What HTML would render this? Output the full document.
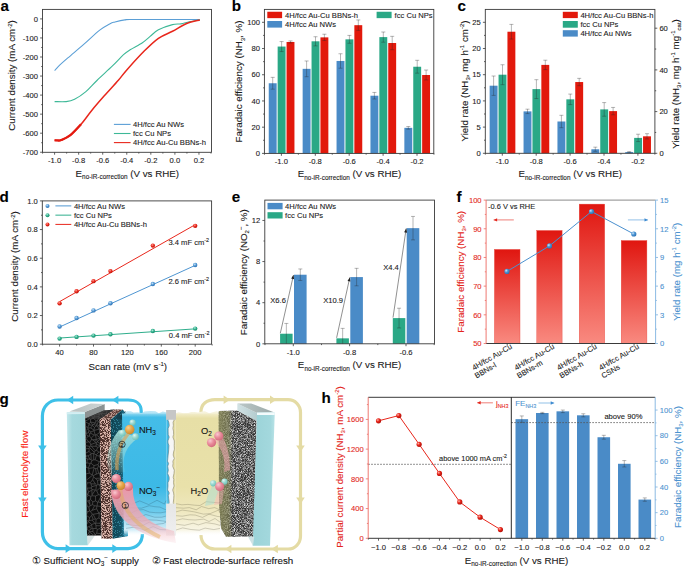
<!DOCTYPE html>
<html><head><meta charset="utf-8"><style>
html,body{margin:0;padding:0;background:#fff;}
svg{display:block;font-family:"Liberation Sans", sans-serif;}
</style></head><body>
<svg width="685" height="567" viewBox="0 0 685 567">
<rect width="685" height="567" fill="#fff"/>
<text x="0.60" y="11.30" font-size="15.2" text-anchor="start" fill="#000" font-weight="bold"  stroke="#000" stroke-width="0.1">a</text>
<path d="M54.60,70.72 C55.20,70.02 56.00,68.65 58.21,66.53 C60.41,64.40 63.58,61.64 67.83,57.95 C72.08,54.27 78.40,49.06 83.71,44.43 C89.03,39.79 95.32,33.60 99.71,30.14 C104.10,26.68 107.51,25.03 110.06,23.66 C112.60,22.30 112.52,22.58 114.99,21.95 C117.46,21.31 121.89,20.27 124.86,19.85 C127.82,19.44 124.45,19.54 132.80,19.47 C141.14,19.41 163.73,19.47 174.90,19.47 C186.07,19.47 195.65,19.47 199.80,19.47" fill="none" stroke="#5b9fd6" stroke-width="1.1"/>
<path d="M54.60,101.58 C56.52,101.58 62.82,101.96 66.15,101.58 C69.48,101.20 71.28,100.94 74.57,99.29 C77.86,97.64 82.11,94.85 85.88,91.67 C89.65,88.50 92.76,84.53 97.19,80.24 C101.62,75.95 108.07,70.21 112.46,65.95 C116.86,61.70 120.58,57.41 123.53,54.71 C126.48,52.02 127.00,51.76 130.15,49.76 C133.30,47.76 139.09,44.93 142.42,42.71 C145.75,40.49 147.45,38.59 150.12,36.43 C152.78,34.27 154.69,31.73 158.42,29.76 C162.15,27.79 168.74,25.60 172.49,24.61 C176.24,23.63 178.11,24.33 180.91,23.85 C183.72,23.38 186.19,22.42 189.34,21.76 C192.48,21.09 198.06,20.17 199.80,19.85" fill="none" stroke="#3db897" stroke-width="1.1"/>
<path d="M54.60,140.25 C55.10,140.28 56.50,140.47 57.61,140.44 C58.71,140.41 59.09,140.95 61.22,140.06 C63.34,139.17 67.05,137.74 70.36,135.10 C73.67,132.47 77.54,128.31 81.07,124.25 C84.59,120.18 87.66,115.45 91.53,110.72 C95.40,105.99 99.81,100.94 104.28,95.86 C108.76,90.78 114.61,84.56 118.36,80.24 C122.11,75.92 122.47,74.81 126.78,69.95 C131.09,65.10 138.95,56.36 144.22,51.09 C149.50,45.82 153.71,41.63 158.42,38.33 C163.13,35.03 167.78,33.76 172.49,31.28 C177.21,28.81 182.14,25.35 186.69,23.47 C191.24,21.60 197.62,20.61 199.80,20.04" fill="none" stroke="#e8261b" stroke-width="1.5"/>
<path d="M54.60,140.25 C55.10,140.28 56.50,140.47 57.61,140.44 C58.71,140.41 59.09,140.95 61.22,140.06 C63.34,139.17 67.05,137.74 70.36,135.10 C73.67,132.47 79.28,126.06 81.07,124.25" fill="none" stroke="#e41a10" stroke-width="2.3"/>
<rect x="42.50" y="9.40" width="169.00" height="142.90" fill="none" stroke="#3a3a3a" stroke-width="0.9"/>
<line x1="41.20" y1="28.42" x2="42.50" y2="28.42" stroke="#3a3a3a" stroke-width="0.8" />
<line x1="41.20" y1="47.47" x2="42.50" y2="47.47" stroke="#3a3a3a" stroke-width="0.8" />
<line x1="41.20" y1="66.53" x2="42.50" y2="66.53" stroke="#3a3a3a" stroke-width="0.8" />
<line x1="41.20" y1="85.57" x2="42.50" y2="85.57" stroke="#3a3a3a" stroke-width="0.8" />
<line x1="41.20" y1="104.62" x2="42.50" y2="104.62" stroke="#3a3a3a" stroke-width="0.8" />
<line x1="41.20" y1="123.68" x2="42.50" y2="123.68" stroke="#3a3a3a" stroke-width="0.8" />
<line x1="41.20" y1="142.72" x2="42.50" y2="142.72" stroke="#3a3a3a" stroke-width="0.8" />
<line x1="40.10" y1="18.90" x2="42.50" y2="18.90" stroke="#3a3a3a" stroke-width="0.8" />
<text x="38.00" y="21.62" font-size="7.6" text-anchor="end" fill="#1a1a1a" font-weight="normal"  stroke="#1a1a1a" stroke-width="0.1">0</text>
<line x1="40.10" y1="37.95" x2="42.50" y2="37.95" stroke="#3a3a3a" stroke-width="0.8" />
<text x="38.00" y="40.67" font-size="7.6" text-anchor="end" fill="#1a1a1a" font-weight="normal"  stroke="#1a1a1a" stroke-width="0.1">-100</text>
<line x1="40.10" y1="57.00" x2="42.50" y2="57.00" stroke="#3a3a3a" stroke-width="0.8" />
<text x="38.00" y="59.72" font-size="7.6" text-anchor="end" fill="#1a1a1a" font-weight="normal"  stroke="#1a1a1a" stroke-width="0.1">-200</text>
<line x1="40.10" y1="76.05" x2="42.50" y2="76.05" stroke="#3a3a3a" stroke-width="0.8" />
<text x="38.00" y="78.77" font-size="7.6" text-anchor="end" fill="#1a1a1a" font-weight="normal"  stroke="#1a1a1a" stroke-width="0.1">-300</text>
<line x1="40.10" y1="95.10" x2="42.50" y2="95.10" stroke="#3a3a3a" stroke-width="0.8" />
<text x="38.00" y="97.82" font-size="7.6" text-anchor="end" fill="#1a1a1a" font-weight="normal"  stroke="#1a1a1a" stroke-width="0.1">-400</text>
<line x1="40.10" y1="114.15" x2="42.50" y2="114.15" stroke="#3a3a3a" stroke-width="0.8" />
<text x="38.00" y="116.87" font-size="7.6" text-anchor="end" fill="#1a1a1a" font-weight="normal"  stroke="#1a1a1a" stroke-width="0.1">-500</text>
<line x1="40.10" y1="133.20" x2="42.50" y2="133.20" stroke="#3a3a3a" stroke-width="0.8" />
<text x="38.00" y="135.92" font-size="7.6" text-anchor="end" fill="#1a1a1a" font-weight="normal"  stroke="#1a1a1a" stroke-width="0.1">-600</text>
<line x1="40.10" y1="152.25" x2="42.50" y2="152.25" stroke="#3a3a3a" stroke-width="0.8" />
<text x="38.00" y="154.97" font-size="7.6" text-anchor="end" fill="#1a1a1a" font-weight="normal"  stroke="#1a1a1a" stroke-width="0.1">-700</text>
<line x1="42.57" y1="152.30" x2="42.57" y2="153.60" stroke="#3a3a3a" stroke-width="0.8" />
<line x1="66.63" y1="152.30" x2="66.63" y2="153.60" stroke="#3a3a3a" stroke-width="0.8" />
<line x1="90.69" y1="152.30" x2="90.69" y2="153.60" stroke="#3a3a3a" stroke-width="0.8" />
<line x1="114.75" y1="152.30" x2="114.75" y2="153.60" stroke="#3a3a3a" stroke-width="0.8" />
<line x1="138.81" y1="152.30" x2="138.81" y2="153.60" stroke="#3a3a3a" stroke-width="0.8" />
<line x1="162.87" y1="152.30" x2="162.87" y2="153.60" stroke="#3a3a3a" stroke-width="0.8" />
<line x1="186.93" y1="152.30" x2="186.93" y2="153.60" stroke="#3a3a3a" stroke-width="0.8" />
<line x1="210.99" y1="152.30" x2="210.99" y2="153.60" stroke="#3a3a3a" stroke-width="0.8" />
<line x1="54.60" y1="152.30" x2="54.60" y2="154.70" stroke="#3a3a3a" stroke-width="0.8" />
<text x="54.60" y="163.12" font-size="7.6" text-anchor="middle" fill="#1a1a1a" font-weight="normal"  stroke="#1a1a1a" stroke-width="0.1">-1.0</text>
<line x1="78.66" y1="152.30" x2="78.66" y2="154.70" stroke="#3a3a3a" stroke-width="0.8" />
<text x="78.66" y="163.12" font-size="7.6" text-anchor="middle" fill="#1a1a1a" font-weight="normal"  stroke="#1a1a1a" stroke-width="0.1">-0.8</text>
<line x1="102.72" y1="152.30" x2="102.72" y2="154.70" stroke="#3a3a3a" stroke-width="0.8" />
<text x="102.72" y="163.12" font-size="7.6" text-anchor="middle" fill="#1a1a1a" font-weight="normal"  stroke="#1a1a1a" stroke-width="0.1">-0.6</text>
<line x1="126.78" y1="152.30" x2="126.78" y2="154.70" stroke="#3a3a3a" stroke-width="0.8" />
<text x="126.78" y="163.12" font-size="7.6" text-anchor="middle" fill="#1a1a1a" font-weight="normal"  stroke="#1a1a1a" stroke-width="0.1">-0.4</text>
<line x1="150.84" y1="152.30" x2="150.84" y2="154.70" stroke="#3a3a3a" stroke-width="0.8" />
<text x="150.84" y="163.12" font-size="7.6" text-anchor="middle" fill="#1a1a1a" font-weight="normal"  stroke="#1a1a1a" stroke-width="0.1">-0.2</text>
<line x1="174.90" y1="152.30" x2="174.90" y2="154.70" stroke="#3a3a3a" stroke-width="0.8" />
<text x="174.90" y="163.12" font-size="7.6" text-anchor="middle" fill="#1a1a1a" font-weight="normal"  stroke="#1a1a1a" stroke-width="0.1">0.0</text>
<line x1="198.96" y1="152.30" x2="198.96" y2="154.70" stroke="#3a3a3a" stroke-width="0.8" />
<text x="198.96" y="163.12" font-size="7.6" text-anchor="middle" fill="#1a1a1a" font-weight="normal"  stroke="#1a1a1a" stroke-width="0.1">0.2</text>
<text x="127.30" y="176.69" font-size="9.75" text-anchor="middle" fill="#1a1a1a" stroke="#1a1a1a" stroke-width="0.1">E<tspan font-size="6.4" dy="2.4">no-iR-correction</tspan><tspan dy="-2.4"> (V vs RHE)</tspan></text>
<text transform="translate(15.3,75.5) rotate(-90)" font-size="9.75" text-anchor="middle" fill="#1a1a1a" stroke="#1a1a1a" stroke-width="0.1">Current density (mA cm<tspan font-size="6" dy="-3.4">-2</tspan><tspan dy="3.4">)</tspan></text>
<line x1="113.90" y1="124.40" x2="130.60" y2="124.40" stroke="#5b9fd6" stroke-width="1.1" />
<text x="133.00" y="127.12" font-size="7.6" text-anchor="start" fill="#1a1a1a" font-weight="normal"  stroke="#1a1a1a" stroke-width="0.1">4H/fcc Au NWs</text>
<line x1="113.90" y1="133.50" x2="130.60" y2="133.50" stroke="#3db897" stroke-width="1.1" />
<text x="133.00" y="136.22" font-size="7.6" text-anchor="start" fill="#1a1a1a" font-weight="normal"  stroke="#1a1a1a" stroke-width="0.1">fcc Cu NPs</text>
<line x1="113.90" y1="142.60" x2="130.60" y2="142.60" stroke="#e8261b" stroke-width="1.1" />
<text x="133.00" y="145.32" font-size="7.6" text-anchor="start" fill="#1a1a1a" font-weight="normal"  stroke="#1a1a1a" stroke-width="0.1">4H/fcc Au-Cu BBNs-h</text>
<text x="231.80" y="11.30" font-size="15.2" text-anchor="start" fill="#000" font-weight="bold"  stroke="#000" stroke-width="0.1">b</text>
<rect x="268.75" y="83.26" width="7.90" height="70.14" fill="#4a8bc7" />
<rect x="277.65" y="46.55" width="7.90" height="106.85" fill="#2aa886" />
<rect x="286.55" y="41.97" width="7.90" height="111.44" fill="#e2190c" />
<rect x="302.65" y="68.84" width="7.90" height="84.56" fill="#4a8bc7" />
<rect x="311.55" y="41.31" width="7.90" height="112.09" fill="#2aa886" />
<rect x="320.45" y="37.38" width="7.90" height="116.02" fill="#e2190c" />
<rect x="336.55" y="60.97" width="7.90" height="92.43" fill="#4a8bc7" />
<rect x="345.45" y="39.34" width="7.90" height="114.06" fill="#2aa886" />
<rect x="354.35" y="25.18" width="7.90" height="128.22" fill="#e2190c" />
<rect x="370.45" y="95.72" width="7.90" height="57.68" fill="#4a8bc7" />
<rect x="379.35" y="37.11" width="7.90" height="116.29" fill="#2aa886" />
<rect x="388.25" y="43.01" width="7.90" height="110.39" fill="#e2190c" />
<rect x="404.35" y="127.84" width="7.90" height="25.56" fill="#4a8bc7" />
<rect x="413.25" y="66.74" width="7.90" height="86.66" fill="#2aa886" />
<rect x="422.15" y="75.00" width="7.90" height="78.40" fill="#e2190c" />
<line x1="272.70" y1="77.36" x2="272.70" y2="89.16" stroke="rgba(40,40,40,0.62)" stroke-width="0.55" />
<line x1="270.70" y1="77.36" x2="274.70" y2="77.36" stroke="rgba(40,40,40,0.62)" stroke-width="0.55" />
<line x1="270.70" y1="89.16" x2="274.70" y2="89.16" stroke="rgba(40,40,40,0.62)" stroke-width="0.55" />
<line x1="281.60" y1="41.57" x2="281.60" y2="51.54" stroke="rgba(40,40,40,0.62)" stroke-width="0.55" />
<line x1="279.60" y1="41.57" x2="283.60" y2="41.57" stroke="rgba(40,40,40,0.62)" stroke-width="0.55" />
<line x1="279.60" y1="51.54" x2="283.60" y2="51.54" stroke="rgba(40,40,40,0.62)" stroke-width="0.55" />
<line x1="290.50" y1="40.92" x2="290.50" y2="43.01" stroke="rgba(40,40,40,0.62)" stroke-width="0.55" />
<line x1="288.50" y1="40.92" x2="292.50" y2="40.92" stroke="rgba(40,40,40,0.62)" stroke-width="0.55" />
<line x1="288.50" y1="43.01" x2="292.50" y2="43.01" stroke="rgba(40,40,40,0.62)" stroke-width="0.55" />
<line x1="306.60" y1="60.97" x2="306.60" y2="76.71" stroke="rgba(40,40,40,0.62)" stroke-width="0.55" />
<line x1="304.60" y1="60.97" x2="308.60" y2="60.97" stroke="rgba(40,40,40,0.62)" stroke-width="0.55" />
<line x1="304.60" y1="76.71" x2="308.60" y2="76.71" stroke="rgba(40,40,40,0.62)" stroke-width="0.55" />
<line x1="315.50" y1="36.72" x2="315.50" y2="45.90" stroke="rgba(40,40,40,0.62)" stroke-width="0.55" />
<line x1="313.50" y1="36.72" x2="317.50" y2="36.72" stroke="rgba(40,40,40,0.62)" stroke-width="0.55" />
<line x1="313.50" y1="45.90" x2="317.50" y2="45.90" stroke="rgba(40,40,40,0.62)" stroke-width="0.55" />
<line x1="324.40" y1="34.23" x2="324.40" y2="40.52" stroke="rgba(40,40,40,0.62)" stroke-width="0.55" />
<line x1="322.40" y1="34.23" x2="326.40" y2="34.23" stroke="rgba(40,40,40,0.62)" stroke-width="0.55" />
<line x1="322.40" y1="40.52" x2="326.40" y2="40.52" stroke="rgba(40,40,40,0.62)" stroke-width="0.55" />
<line x1="340.50" y1="53.76" x2="340.50" y2="68.19" stroke="rgba(40,40,40,0.62)" stroke-width="0.55" />
<line x1="338.50" y1="53.76" x2="342.50" y2="53.76" stroke="rgba(40,40,40,0.62)" stroke-width="0.55" />
<line x1="338.50" y1="68.19" x2="342.50" y2="68.19" stroke="rgba(40,40,40,0.62)" stroke-width="0.55" />
<line x1="349.40" y1="35.41" x2="349.40" y2="43.28" stroke="rgba(40,40,40,0.62)" stroke-width="0.55" />
<line x1="347.40" y1="35.41" x2="351.40" y2="35.41" stroke="rgba(40,40,40,0.62)" stroke-width="0.55" />
<line x1="347.40" y1="43.28" x2="351.40" y2="43.28" stroke="rgba(40,40,40,0.62)" stroke-width="0.55" />
<line x1="358.30" y1="19.94" x2="358.30" y2="30.43" stroke="rgba(40,40,40,0.62)" stroke-width="0.55" />
<line x1="356.30" y1="19.94" x2="360.30" y2="19.94" stroke="rgba(40,40,40,0.62)" stroke-width="0.55" />
<line x1="356.30" y1="30.43" x2="360.30" y2="30.43" stroke="rgba(40,40,40,0.62)" stroke-width="0.55" />
<line x1="374.40" y1="92.44" x2="374.40" y2="98.99" stroke="rgba(40,40,40,0.62)" stroke-width="0.55" />
<line x1="372.40" y1="92.44" x2="376.40" y2="92.44" stroke="rgba(40,40,40,0.62)" stroke-width="0.55" />
<line x1="372.40" y1="98.99" x2="376.40" y2="98.99" stroke="rgba(40,40,40,0.62)" stroke-width="0.55" />
<line x1="383.30" y1="32.00" x2="383.30" y2="42.23" stroke="rgba(40,40,40,0.62)" stroke-width="0.55" />
<line x1="381.30" y1="32.00" x2="385.30" y2="32.00" stroke="rgba(40,40,40,0.62)" stroke-width="0.55" />
<line x1="381.30" y1="42.23" x2="385.30" y2="42.23" stroke="rgba(40,40,40,0.62)" stroke-width="0.55" />
<line x1="392.20" y1="36.33" x2="392.20" y2="49.70" stroke="rgba(40,40,40,0.62)" stroke-width="0.55" />
<line x1="390.20" y1="36.33" x2="394.20" y2="36.33" stroke="rgba(40,40,40,0.62)" stroke-width="0.55" />
<line x1="390.20" y1="49.70" x2="394.20" y2="49.70" stroke="rgba(40,40,40,0.62)" stroke-width="0.55" />
<line x1="408.30" y1="126.52" x2="408.30" y2="129.15" stroke="rgba(40,40,40,0.62)" stroke-width="0.55" />
<line x1="406.30" y1="126.52" x2="410.30" y2="126.52" stroke="rgba(40,40,40,0.62)" stroke-width="0.55" />
<line x1="406.30" y1="129.15" x2="410.30" y2="129.15" stroke="rgba(40,40,40,0.62)" stroke-width="0.55" />
<line x1="417.20" y1="60.32" x2="417.20" y2="73.17" stroke="rgba(40,40,40,0.62)" stroke-width="0.55" />
<line x1="415.20" y1="60.32" x2="419.20" y2="60.32" stroke="rgba(40,40,40,0.62)" stroke-width="0.55" />
<line x1="415.20" y1="73.17" x2="419.20" y2="73.17" stroke="rgba(40,40,40,0.62)" stroke-width="0.55" />
<line x1="426.10" y1="70.02" x2="426.10" y2="79.98" stroke="rgba(40,40,40,0.62)" stroke-width="0.55" />
<line x1="424.10" y1="70.02" x2="428.10" y2="70.02" stroke="rgba(40,40,40,0.62)" stroke-width="0.55" />
<line x1="424.10" y1="79.98" x2="428.10" y2="79.98" stroke="rgba(40,40,40,0.62)" stroke-width="0.55" />
<rect x="264.40" y="9.40" width="169.40" height="144.00" fill="none" stroke="#3a3a3a" stroke-width="0.9"/>
<line x1="263.10" y1="140.29" x2="264.40" y2="140.29" stroke="#3a3a3a" stroke-width="0.8" />
<line x1="263.10" y1="114.07" x2="264.40" y2="114.07" stroke="#3a3a3a" stroke-width="0.8" />
<line x1="263.10" y1="87.85" x2="264.40" y2="87.85" stroke="#3a3a3a" stroke-width="0.8" />
<line x1="263.10" y1="61.63" x2="264.40" y2="61.63" stroke="#3a3a3a" stroke-width="0.8" />
<line x1="263.10" y1="35.41" x2="264.40" y2="35.41" stroke="#3a3a3a" stroke-width="0.8" />
<line x1="262.00" y1="153.40" x2="264.40" y2="153.40" stroke="#3a3a3a" stroke-width="0.8" />
<text x="259.90" y="156.12" font-size="7.6" text-anchor="end" fill="#1a1a1a" font-weight="normal"  stroke="#1a1a1a" stroke-width="0.1">0</text>
<line x1="262.00" y1="127.18" x2="264.40" y2="127.18" stroke="#3a3a3a" stroke-width="0.8" />
<text x="259.90" y="129.90" font-size="7.6" text-anchor="end" fill="#1a1a1a" font-weight="normal"  stroke="#1a1a1a" stroke-width="0.1">20</text>
<line x1="262.00" y1="100.96" x2="264.40" y2="100.96" stroke="#3a3a3a" stroke-width="0.8" />
<text x="259.90" y="103.68" font-size="7.6" text-anchor="end" fill="#1a1a1a" font-weight="normal"  stroke="#1a1a1a" stroke-width="0.1">40</text>
<line x1="262.00" y1="74.74" x2="264.40" y2="74.74" stroke="#3a3a3a" stroke-width="0.8" />
<text x="259.90" y="77.46" font-size="7.6" text-anchor="end" fill="#1a1a1a" font-weight="normal"  stroke="#1a1a1a" stroke-width="0.1">60</text>
<line x1="262.00" y1="48.52" x2="264.40" y2="48.52" stroke="#3a3a3a" stroke-width="0.8" />
<text x="259.90" y="51.24" font-size="7.6" text-anchor="end" fill="#1a1a1a" font-weight="normal"  stroke="#1a1a1a" stroke-width="0.1">80</text>
<line x1="262.00" y1="22.30" x2="264.40" y2="22.30" stroke="#3a3a3a" stroke-width="0.8" />
<text x="259.90" y="25.02" font-size="7.6" text-anchor="end" fill="#1a1a1a" font-weight="normal"  stroke="#1a1a1a" stroke-width="0.1">100</text>
<line x1="264.45" y1="153.40" x2="264.45" y2="154.70" stroke="#3a3a3a" stroke-width="0.8" />
<line x1="298.35" y1="153.40" x2="298.35" y2="154.70" stroke="#3a3a3a" stroke-width="0.8" />
<line x1="332.25" y1="153.40" x2="332.25" y2="154.70" stroke="#3a3a3a" stroke-width="0.8" />
<line x1="366.15" y1="153.40" x2="366.15" y2="154.70" stroke="#3a3a3a" stroke-width="0.8" />
<line x1="400.05" y1="153.40" x2="400.05" y2="154.70" stroke="#3a3a3a" stroke-width="0.8" />
<line x1="433.95" y1="153.40" x2="433.95" y2="154.70" stroke="#3a3a3a" stroke-width="0.8" />
<line x1="281.40" y1="153.40" x2="281.40" y2="155.80" stroke="#3a3a3a" stroke-width="0.8" />
<text x="281.40" y="163.52" font-size="7.6" text-anchor="middle" fill="#1a1a1a" font-weight="normal"  stroke="#1a1a1a" stroke-width="0.1">-1.0</text>
<line x1="315.30" y1="153.40" x2="315.30" y2="155.80" stroke="#3a3a3a" stroke-width="0.8" />
<text x="315.30" y="163.52" font-size="7.6" text-anchor="middle" fill="#1a1a1a" font-weight="normal"  stroke="#1a1a1a" stroke-width="0.1">-0.8</text>
<line x1="349.20" y1="153.40" x2="349.20" y2="155.80" stroke="#3a3a3a" stroke-width="0.8" />
<text x="349.20" y="163.52" font-size="7.6" text-anchor="middle" fill="#1a1a1a" font-weight="normal"  stroke="#1a1a1a" stroke-width="0.1">-0.6</text>
<line x1="383.10" y1="153.40" x2="383.10" y2="155.80" stroke="#3a3a3a" stroke-width="0.8" />
<text x="383.10" y="163.52" font-size="7.6" text-anchor="middle" fill="#1a1a1a" font-weight="normal"  stroke="#1a1a1a" stroke-width="0.1">-0.4</text>
<line x1="417.00" y1="153.40" x2="417.00" y2="155.80" stroke="#3a3a3a" stroke-width="0.8" />
<text x="417.00" y="163.52" font-size="7.6" text-anchor="middle" fill="#1a1a1a" font-weight="normal"  stroke="#1a1a1a" stroke-width="0.1">-0.2</text>
<text x="349.50" y="177.39" font-size="9.75" text-anchor="middle" fill="#1a1a1a" stroke="#1a1a1a" stroke-width="0.1">E<tspan font-size="6.4" dy="2.4">no-iR-correction</tspan><tspan dy="-2.4"> (V vs RHE)</tspan></text>
<text transform="translate(242.3,81.5) rotate(-90)" font-size="9.75" text-anchor="middle" fill="#1a1a1a" stroke="#1a1a1a" stroke-width="0.1">Faradaic efficiency (NH<tspan font-size="6" dy="2.2">3</tspan><tspan dy="-2.2">, %)</tspan></text>
<rect x="267.30" y="11.75" width="14.80" height="6.40" fill="#e2190c" />
<text x="285.00" y="17.72" font-size="7.6" text-anchor="start" fill="#1a1a1a" font-weight="normal"  stroke="#1a1a1a" stroke-width="0.1">4H/fcc Au-Cu BBNs-h</text>
<rect x="267.30" y="21.00" width="14.80" height="6.60" fill="#4a8bc7" />
<text x="285.00" y="27.12" font-size="7.6" text-anchor="start" fill="#1a1a1a" font-weight="normal"  stroke="#1a1a1a" stroke-width="0.1">4H/fcc Au NWs</text>
<rect x="376.60" y="11.75" width="15.00" height="6.40" fill="#2aa886" />
<text x="394.60" y="17.72" font-size="7.6" text-anchor="start" fill="#1a1a1a" font-weight="normal"  stroke="#1a1a1a" stroke-width="0.1">fcc Cu NPs</text>
<text x="457.50" y="11.30" font-size="15.2" text-anchor="start" fill="#000" font-weight="bold"  stroke="#000" stroke-width="0.1">c</text>
<rect x="489.65" y="85.70" width="7.90" height="67.60" fill="#4a8bc7" />
<rect x="498.55" y="74.70" width="7.90" height="78.60" fill="#2aa886" />
<rect x="507.45" y="31.73" width="7.90" height="121.57" fill="#e2190c" />
<rect x="523.55" y="111.38" width="7.90" height="41.92" fill="#4a8bc7" />
<rect x="532.45" y="89.11" width="7.90" height="64.19" fill="#2aa886" />
<rect x="541.35" y="64.90" width="7.90" height="88.40" fill="#e2190c" />
<rect x="557.45" y="121.49" width="7.90" height="31.81" fill="#4a8bc7" />
<rect x="566.35" y="99.33" width="7.90" height="53.97" fill="#2aa886" />
<rect x="575.25" y="82.04" width="7.90" height="71.26" fill="#e2190c" />
<rect x="591.35" y="149.27" width="7.90" height="4.03" fill="#4a8bc7" />
<rect x="600.25" y="109.39" width="7.90" height="43.91" fill="#2aa886" />
<rect x="609.15" y="111.12" width="7.90" height="42.18" fill="#e2190c" />
<rect x="625.25" y="152.09" width="7.90" height="1.21" fill="#4a8bc7" />
<rect x="634.15" y="137.89" width="7.90" height="15.41" fill="#2aa886" />
<rect x="643.05" y="136.32" width="7.90" height="16.98" fill="#e2190c" />
<line x1="493.60" y1="76.01" x2="493.60" y2="95.40" stroke="rgba(40,40,40,0.62)" stroke-width="0.55" />
<line x1="491.60" y1="76.01" x2="495.60" y2="76.01" stroke="rgba(40,40,40,0.62)" stroke-width="0.55" />
<line x1="491.60" y1="95.40" x2="495.60" y2="95.40" stroke="rgba(40,40,40,0.62)" stroke-width="0.55" />
<line x1="502.50" y1="64.74" x2="502.50" y2="84.66" stroke="rgba(40,40,40,0.62)" stroke-width="0.55" />
<line x1="500.50" y1="64.74" x2="504.50" y2="64.74" stroke="rgba(40,40,40,0.62)" stroke-width="0.55" />
<line x1="500.50" y1="84.66" x2="504.50" y2="84.66" stroke="rgba(40,40,40,0.62)" stroke-width="0.55" />
<line x1="511.40" y1="24.40" x2="511.40" y2="39.07" stroke="rgba(40,40,40,0.62)" stroke-width="0.55" />
<line x1="509.40" y1="24.40" x2="513.40" y2="24.40" stroke="rgba(40,40,40,0.62)" stroke-width="0.55" />
<line x1="509.40" y1="39.07" x2="513.40" y2="39.07" stroke="rgba(40,40,40,0.62)" stroke-width="0.55" />
<line x1="527.50" y1="109.18" x2="527.50" y2="113.58" stroke="rgba(40,40,40,0.62)" stroke-width="0.55" />
<line x1="525.50" y1="109.18" x2="529.50" y2="109.18" stroke="rgba(40,40,40,0.62)" stroke-width="0.55" />
<line x1="525.50" y1="113.58" x2="529.50" y2="113.58" stroke="rgba(40,40,40,0.62)" stroke-width="0.55" />
<line x1="536.40" y1="79.68" x2="536.40" y2="98.54" stroke="rgba(40,40,40,0.62)" stroke-width="0.55" />
<line x1="534.40" y1="79.68" x2="538.40" y2="79.68" stroke="rgba(40,40,40,0.62)" stroke-width="0.55" />
<line x1="534.40" y1="98.54" x2="538.40" y2="98.54" stroke="rgba(40,40,40,0.62)" stroke-width="0.55" />
<line x1="545.30" y1="60.19" x2="545.30" y2="69.62" stroke="rgba(40,40,40,0.62)" stroke-width="0.55" />
<line x1="543.30" y1="60.19" x2="547.30" y2="60.19" stroke="rgba(40,40,40,0.62)" stroke-width="0.55" />
<line x1="543.30" y1="69.62" x2="547.30" y2="69.62" stroke="rgba(40,40,40,0.62)" stroke-width="0.55" />
<line x1="561.40" y1="115.31" x2="561.40" y2="127.68" stroke="rgba(40,40,40,0.62)" stroke-width="0.55" />
<line x1="559.40" y1="115.31" x2="563.40" y2="115.31" stroke="rgba(40,40,40,0.62)" stroke-width="0.55" />
<line x1="559.40" y1="127.68" x2="563.40" y2="127.68" stroke="rgba(40,40,40,0.62)" stroke-width="0.55" />
<line x1="570.30" y1="94.09" x2="570.30" y2="104.57" stroke="rgba(40,40,40,0.62)" stroke-width="0.55" />
<line x1="568.30" y1="94.09" x2="572.30" y2="94.09" stroke="rgba(40,40,40,0.62)" stroke-width="0.55" />
<line x1="568.30" y1="104.57" x2="572.30" y2="104.57" stroke="rgba(40,40,40,0.62)" stroke-width="0.55" />
<line x1="579.20" y1="78.37" x2="579.20" y2="85.70" stroke="rgba(40,40,40,0.62)" stroke-width="0.55" />
<line x1="577.20" y1="78.37" x2="581.20" y2="78.37" stroke="rgba(40,40,40,0.62)" stroke-width="0.55" />
<line x1="577.20" y1="85.70" x2="581.20" y2="85.70" stroke="rgba(40,40,40,0.62)" stroke-width="0.55" />
<line x1="595.30" y1="147.17" x2="595.30" y2="151.36" stroke="rgba(40,40,40,0.62)" stroke-width="0.55" />
<line x1="593.30" y1="147.17" x2="597.30" y2="147.17" stroke="rgba(40,40,40,0.62)" stroke-width="0.55" />
<line x1="593.30" y1="151.36" x2="597.30" y2="151.36" stroke="rgba(40,40,40,0.62)" stroke-width="0.55" />
<line x1="604.20" y1="102.58" x2="604.20" y2="116.20" stroke="rgba(40,40,40,0.62)" stroke-width="0.55" />
<line x1="602.20" y1="102.58" x2="606.20" y2="102.58" stroke="rgba(40,40,40,0.62)" stroke-width="0.55" />
<line x1="602.20" y1="116.20" x2="606.20" y2="116.20" stroke="rgba(40,40,40,0.62)" stroke-width="0.55" />
<line x1="613.10" y1="107.45" x2="613.10" y2="114.79" stroke="rgba(40,40,40,0.62)" stroke-width="0.55" />
<line x1="611.10" y1="107.45" x2="615.10" y2="107.45" stroke="rgba(40,40,40,0.62)" stroke-width="0.55" />
<line x1="611.10" y1="114.79" x2="615.10" y2="114.79" stroke="rgba(40,40,40,0.62)" stroke-width="0.55" />
<line x1="629.20" y1="151.57" x2="629.20" y2="152.62" stroke="rgba(40,40,40,0.62)" stroke-width="0.55" />
<line x1="627.20" y1="151.57" x2="631.20" y2="151.57" stroke="rgba(40,40,40,0.62)" stroke-width="0.55" />
<line x1="627.20" y1="152.62" x2="631.20" y2="152.62" stroke="rgba(40,40,40,0.62)" stroke-width="0.55" />
<line x1="638.10" y1="134.23" x2="638.10" y2="141.56" stroke="rgba(40,40,40,0.62)" stroke-width="0.55" />
<line x1="636.10" y1="134.23" x2="640.10" y2="134.23" stroke="rgba(40,40,40,0.62)" stroke-width="0.55" />
<line x1="636.10" y1="141.56" x2="640.10" y2="141.56" stroke="rgba(40,40,40,0.62)" stroke-width="0.55" />
<line x1="647.00" y1="133.70" x2="647.00" y2="138.94" stroke="rgba(40,40,40,0.62)" stroke-width="0.55" />
<line x1="645.00" y1="133.70" x2="649.00" y2="133.70" stroke="rgba(40,40,40,0.62)" stroke-width="0.55" />
<line x1="645.00" y1="138.94" x2="649.00" y2="138.94" stroke="rgba(40,40,40,0.62)" stroke-width="0.55" />
<rect x="485.30" y="9.40" width="169.60" height="143.90" fill="none" stroke="#3a3a3a" stroke-width="0.9"/>
<line x1="484.00" y1="140.20" x2="485.30" y2="140.20" stroke="#3a3a3a" stroke-width="0.8" />
<line x1="484.00" y1="114.00" x2="485.30" y2="114.00" stroke="#3a3a3a" stroke-width="0.8" />
<line x1="484.00" y1="87.80" x2="485.30" y2="87.80" stroke="#3a3a3a" stroke-width="0.8" />
<line x1="484.00" y1="61.60" x2="485.30" y2="61.60" stroke="#3a3a3a" stroke-width="0.8" />
<line x1="484.00" y1="35.40" x2="485.30" y2="35.40" stroke="#3a3a3a" stroke-width="0.8" />
<line x1="482.90" y1="153.30" x2="485.30" y2="153.30" stroke="#3a3a3a" stroke-width="0.8" />
<text x="480.80" y="156.02" font-size="7.6" text-anchor="end" fill="#1a1a1a" font-weight="normal"  stroke="#1a1a1a" stroke-width="0.1">0</text>
<line x1="482.90" y1="127.10" x2="485.30" y2="127.10" stroke="#3a3a3a" stroke-width="0.8" />
<text x="480.80" y="129.82" font-size="7.6" text-anchor="end" fill="#1a1a1a" font-weight="normal"  stroke="#1a1a1a" stroke-width="0.1">5</text>
<line x1="482.90" y1="100.90" x2="485.30" y2="100.90" stroke="#3a3a3a" stroke-width="0.8" />
<text x="480.80" y="103.62" font-size="7.6" text-anchor="end" fill="#1a1a1a" font-weight="normal"  stroke="#1a1a1a" stroke-width="0.1">10</text>
<line x1="482.90" y1="74.70" x2="485.30" y2="74.70" stroke="#3a3a3a" stroke-width="0.8" />
<text x="480.80" y="77.42" font-size="7.6" text-anchor="end" fill="#1a1a1a" font-weight="normal"  stroke="#1a1a1a" stroke-width="0.1">15</text>
<line x1="482.90" y1="48.50" x2="485.30" y2="48.50" stroke="#3a3a3a" stroke-width="0.8" />
<text x="480.80" y="51.22" font-size="7.6" text-anchor="end" fill="#1a1a1a" font-weight="normal"  stroke="#1a1a1a" stroke-width="0.1">20</text>
<line x1="482.90" y1="22.30" x2="485.30" y2="22.30" stroke="#3a3a3a" stroke-width="0.8" />
<text x="480.80" y="25.02" font-size="7.6" text-anchor="end" fill="#1a1a1a" font-weight="normal"  stroke="#1a1a1a" stroke-width="0.1">25</text>
<line x1="654.90" y1="132.45" x2="656.20" y2="132.45" stroke="#3a3a3a" stroke-width="0.8" />
<line x1="654.90" y1="90.75" x2="656.20" y2="90.75" stroke="#3a3a3a" stroke-width="0.8" />
<line x1="654.90" y1="49.05" x2="656.20" y2="49.05" stroke="#3a3a3a" stroke-width="0.8" />
<line x1="654.90" y1="153.30" x2="657.30" y2="153.30" stroke="#3a3a3a" stroke-width="0.8" />
<text x="659.40" y="156.02" font-size="7.6" text-anchor="start" fill="#1a1a1a" font-weight="normal"  stroke="#1a1a1a" stroke-width="0.1">0</text>
<line x1="654.90" y1="111.60" x2="657.30" y2="111.60" stroke="#3a3a3a" stroke-width="0.8" />
<text x="659.40" y="114.32" font-size="7.6" text-anchor="start" fill="#1a1a1a" font-weight="normal"  stroke="#1a1a1a" stroke-width="0.1">20</text>
<line x1="654.90" y1="69.90" x2="657.30" y2="69.90" stroke="#3a3a3a" stroke-width="0.8" />
<text x="659.40" y="72.62" font-size="7.6" text-anchor="start" fill="#1a1a1a" font-weight="normal"  stroke="#1a1a1a" stroke-width="0.1">40</text>
<line x1="654.90" y1="28.20" x2="657.30" y2="28.20" stroke="#3a3a3a" stroke-width="0.8" />
<text x="659.40" y="30.92" font-size="7.6" text-anchor="start" fill="#1a1a1a" font-weight="normal"  stroke="#1a1a1a" stroke-width="0.1">60</text>
<line x1="485.35" y1="153.30" x2="485.35" y2="154.60" stroke="#3a3a3a" stroke-width="0.8" />
<line x1="519.25" y1="153.30" x2="519.25" y2="154.60" stroke="#3a3a3a" stroke-width="0.8" />
<line x1="553.15" y1="153.30" x2="553.15" y2="154.60" stroke="#3a3a3a" stroke-width="0.8" />
<line x1="587.05" y1="153.30" x2="587.05" y2="154.60" stroke="#3a3a3a" stroke-width="0.8" />
<line x1="620.95" y1="153.30" x2="620.95" y2="154.60" stroke="#3a3a3a" stroke-width="0.8" />
<line x1="654.85" y1="153.30" x2="654.85" y2="154.60" stroke="#3a3a3a" stroke-width="0.8" />
<line x1="502.30" y1="153.30" x2="502.30" y2="155.70" stroke="#3a3a3a" stroke-width="0.8" />
<text x="502.30" y="163.52" font-size="7.6" text-anchor="middle" fill="#1a1a1a" font-weight="normal"  stroke="#1a1a1a" stroke-width="0.1">-1.0</text>
<line x1="536.20" y1="153.30" x2="536.20" y2="155.70" stroke="#3a3a3a" stroke-width="0.8" />
<text x="536.20" y="163.52" font-size="7.6" text-anchor="middle" fill="#1a1a1a" font-weight="normal"  stroke="#1a1a1a" stroke-width="0.1">-0.8</text>
<line x1="570.10" y1="153.30" x2="570.10" y2="155.70" stroke="#3a3a3a" stroke-width="0.8" />
<text x="570.10" y="163.52" font-size="7.6" text-anchor="middle" fill="#1a1a1a" font-weight="normal"  stroke="#1a1a1a" stroke-width="0.1">-0.6</text>
<line x1="604.00" y1="153.30" x2="604.00" y2="155.70" stroke="#3a3a3a" stroke-width="0.8" />
<text x="604.00" y="163.52" font-size="7.6" text-anchor="middle" fill="#1a1a1a" font-weight="normal"  stroke="#1a1a1a" stroke-width="0.1">-0.4</text>
<line x1="637.90" y1="153.30" x2="637.90" y2="155.70" stroke="#3a3a3a" stroke-width="0.8" />
<text x="637.90" y="163.52" font-size="7.6" text-anchor="middle" fill="#1a1a1a" font-weight="normal"  stroke="#1a1a1a" stroke-width="0.1">-0.2</text>
<text x="570.20" y="177.39" font-size="9.75" text-anchor="middle" fill="#1a1a1a" stroke="#1a1a1a" stroke-width="0.1">E<tspan font-size="6.4" dy="2.4">no-iR-correction</tspan><tspan dy="-2.4"> (V vs RHE)</tspan></text>
<text transform="translate(467.5,81) rotate(-90)" font-size="9.75" text-anchor="middle" fill="#1a1a1a" stroke="#1a1a1a" stroke-width="0.1">Yield rate (NH<tspan font-size="6" dy="2.2">3</tspan><tspan dy="-2.2">, mg h</tspan><tspan font-size="6" dy="-3.4">-1</tspan><tspan dy="3.4"> cm</tspan><tspan font-size="6" dy="-3.4">-2</tspan><tspan dy="3.4">)</tspan></text>
<text transform="translate(678.5,84) rotate(-90)" font-size="9.75" text-anchor="middle" fill="#1a1a1a" stroke="#1a1a1a" stroke-width="0.1">Yield rate (NH<tspan font-size="6" dy="2.2">3</tspan><tspan dy="-2.2">, mg h</tspan><tspan font-size="6" dy="-3.4">-1</tspan><tspan dy="3.4"> mg</tspan><tspan font-size="6" dy="-3.4">-1</tspan><tspan font-size="6" dy="5.6">cat</tspan><tspan dy="-2.2">)</tspan></text>
<rect x="562.80" y="11.80" width="15.00" height="6.30" fill="#e2190c" />
<text x="580.40" y="17.72" font-size="7.6" text-anchor="start" fill="#1a1a1a" font-weight="normal"  stroke="#1a1a1a" stroke-width="0.1">4H/fcc Au-Cu BBNs-h</text>
<rect x="562.80" y="21.00" width="15.00" height="6.70" fill="#2aa886" />
<text x="580.40" y="27.12" font-size="7.6" text-anchor="start" fill="#1a1a1a" font-weight="normal"  stroke="#1a1a1a" stroke-width="0.1">fcc Cu NPs</text>
<rect x="562.80" y="30.20" width="15.00" height="6.40" fill="#4a8bc7" />
<text x="580.40" y="36.12" font-size="7.6" text-anchor="start" fill="#1a1a1a" font-weight="normal"  stroke="#1a1a1a" stroke-width="0.1">4H/fcc Au NWs</text>
<defs><radialGradient id="sphe8261b" cx="0.4" cy="0.35" r="0.7"><stop offset="0" stop-color="#ff9a90"/><stop offset="0.5" stop-color="#e8261b"/><stop offset="1" stop-color="#b81408"/></radialGradient></defs>
<defs><radialGradient id="sph4f96d2" cx="0.4" cy="0.35" r="0.7"><stop offset="0" stop-color="#c8e4fa"/><stop offset="0.5" stop-color="#4f96d2"/><stop offset="1" stop-color="#2f6fb0"/></radialGradient></defs>
<defs><radialGradient id="sph2fae8c" cx="0.4" cy="0.35" r="0.7"><stop offset="0" stop-color="#b0ecd8"/><stop offset="0.5" stop-color="#2fae8c"/><stop offset="1" stop-color="#1a8a68"/></radialGradient></defs>
<text x="-0.50" y="202.00" font-size="15.2" text-anchor="start" fill="#000" font-weight="bold"  stroke="#000" stroke-width="0.1">d</text>
<line x1="59.60" y1="301.64" x2="195.20" y2="224.69" stroke="#e8261b" stroke-width="1.0" />
<circle cx="59.60" cy="303.36" r="2.2" fill="url(#sphe8261b)"/>
<circle cx="76.55" cy="291.18" r="2.2" fill="url(#sphe8261b)"/>
<circle cx="93.50" cy="281.15" r="2.2" fill="url(#sphe8261b)"/>
<circle cx="110.45" cy="271.12" r="2.2" fill="url(#sphe8261b)"/>
<circle cx="152.83" cy="245.61" r="2.2" fill="url(#sphe8261b)"/>
<circle cx="195.20" cy="225.83" r="2.2" fill="url(#sphe8261b)"/>
<line x1="59.60" y1="327.00" x2="195.20" y2="265.38" stroke="#4f96d2" stroke-width="1.0" />
<circle cx="59.60" cy="326.43" r="2.2" fill="url(#sph4f96d2)"/>
<circle cx="76.55" cy="317.98" r="2.2" fill="url(#sph4f96d2)"/>
<circle cx="93.50" cy="310.38" r="2.2" fill="url(#sph4f96d2)"/>
<circle cx="110.45" cy="303.22" r="2.2" fill="url(#sph4f96d2)"/>
<circle cx="152.83" cy="284.01" r="2.2" fill="url(#sph4f96d2)"/>
<circle cx="195.20" cy="264.96" r="2.2" fill="url(#sph4f96d2)"/>
<line x1="59.60" y1="338.04" x2="195.20" y2="328.87" stroke="#2fae8c" stroke-width="1.0" />
<circle cx="59.60" cy="338.61" r="2.2" fill="url(#sph2fae8c)"/>
<circle cx="76.55" cy="336.89" r="2.2" fill="url(#sph2fae8c)"/>
<circle cx="93.50" cy="335.60" r="2.2" fill="url(#sph2fae8c)"/>
<circle cx="110.45" cy="334.31" r="2.2" fill="url(#sph2fae8c)"/>
<circle cx="152.83" cy="331.02" r="2.2" fill="url(#sph2fae8c)"/>
<circle cx="195.20" cy="328.58" r="2.2" fill="url(#sph2fae8c)"/>
<rect x="42.30" y="200.90" width="169.30" height="143.30" fill="none" stroke="#3a3a3a" stroke-width="0.9"/>
<line x1="41.00" y1="329.87" x2="42.30" y2="329.87" stroke="#3a3a3a" stroke-width="0.8" />
<line x1="41.00" y1="301.21" x2="42.30" y2="301.21" stroke="#3a3a3a" stroke-width="0.8" />
<line x1="41.00" y1="272.55" x2="42.30" y2="272.55" stroke="#3a3a3a" stroke-width="0.8" />
<line x1="41.00" y1="243.89" x2="42.30" y2="243.89" stroke="#3a3a3a" stroke-width="0.8" />
<line x1="41.00" y1="215.23" x2="42.30" y2="215.23" stroke="#3a3a3a" stroke-width="0.8" />
<line x1="39.90" y1="344.20" x2="42.30" y2="344.20" stroke="#3a3a3a" stroke-width="0.8" />
<text x="37.80" y="346.92" font-size="7.6" text-anchor="end" fill="#1a1a1a" font-weight="normal"  stroke="#1a1a1a" stroke-width="0.1">0.0</text>
<line x1="39.90" y1="315.54" x2="42.30" y2="315.54" stroke="#3a3a3a" stroke-width="0.8" />
<text x="37.80" y="318.26" font-size="7.6" text-anchor="end" fill="#1a1a1a" font-weight="normal"  stroke="#1a1a1a" stroke-width="0.1">0.2</text>
<line x1="39.90" y1="286.88" x2="42.30" y2="286.88" stroke="#3a3a3a" stroke-width="0.8" />
<text x="37.80" y="289.60" font-size="7.6" text-anchor="end" fill="#1a1a1a" font-weight="normal"  stroke="#1a1a1a" stroke-width="0.1">0.4</text>
<line x1="39.90" y1="258.22" x2="42.30" y2="258.22" stroke="#3a3a3a" stroke-width="0.8" />
<text x="37.80" y="260.94" font-size="7.6" text-anchor="end" fill="#1a1a1a" font-weight="normal"  stroke="#1a1a1a" stroke-width="0.1">0.6</text>
<line x1="39.90" y1="229.56" x2="42.30" y2="229.56" stroke="#3a3a3a" stroke-width="0.8" />
<text x="37.80" y="232.28" font-size="7.6" text-anchor="end" fill="#1a1a1a" font-weight="normal"  stroke="#1a1a1a" stroke-width="0.1">0.8</text>
<line x1="39.90" y1="200.90" x2="42.30" y2="200.90" stroke="#3a3a3a" stroke-width="0.8" />
<text x="37.80" y="203.62" font-size="7.6" text-anchor="end" fill="#1a1a1a" font-weight="normal"  stroke="#1a1a1a" stroke-width="0.1">1.0</text>
<line x1="42.65" y1="344.20" x2="42.65" y2="345.50" stroke="#3a3a3a" stroke-width="0.8" />
<line x1="76.55" y1="344.20" x2="76.55" y2="345.50" stroke="#3a3a3a" stroke-width="0.8" />
<line x1="110.45" y1="344.20" x2="110.45" y2="345.50" stroke="#3a3a3a" stroke-width="0.8" />
<line x1="144.35" y1="344.20" x2="144.35" y2="345.50" stroke="#3a3a3a" stroke-width="0.8" />
<line x1="178.25" y1="344.20" x2="178.25" y2="345.50" stroke="#3a3a3a" stroke-width="0.8" />
<line x1="212.15" y1="344.20" x2="212.15" y2="345.50" stroke="#3a3a3a" stroke-width="0.8" />
<line x1="59.60" y1="344.20" x2="59.60" y2="346.60" stroke="#3a3a3a" stroke-width="0.8" />
<text x="59.60" y="355.42" font-size="7.6" text-anchor="middle" fill="#1a1a1a" font-weight="normal"  stroke="#1a1a1a" stroke-width="0.1">40</text>
<line x1="93.50" y1="344.20" x2="93.50" y2="346.60" stroke="#3a3a3a" stroke-width="0.8" />
<text x="93.50" y="355.42" font-size="7.6" text-anchor="middle" fill="#1a1a1a" font-weight="normal"  stroke="#1a1a1a" stroke-width="0.1">80</text>
<line x1="127.40" y1="344.20" x2="127.40" y2="346.60" stroke="#3a3a3a" stroke-width="0.8" />
<text x="127.40" y="355.42" font-size="7.6" text-anchor="middle" fill="#1a1a1a" font-weight="normal"  stroke="#1a1a1a" stroke-width="0.1">120</text>
<line x1="161.30" y1="344.20" x2="161.30" y2="346.60" stroke="#3a3a3a" stroke-width="0.8" />
<text x="161.30" y="355.42" font-size="7.6" text-anchor="middle" fill="#1a1a1a" font-weight="normal"  stroke="#1a1a1a" stroke-width="0.1">160</text>
<line x1="195.20" y1="344.20" x2="195.20" y2="346.60" stroke="#3a3a3a" stroke-width="0.8" />
<text x="195.20" y="355.42" font-size="7.6" text-anchor="middle" fill="#1a1a1a" font-weight="normal"  stroke="#1a1a1a" stroke-width="0.1">200</text>
<text x="127.8" y="369.79" font-size="9.75" text-anchor="middle" fill="#1a1a1a" stroke="#1a1a1a" stroke-width="0.1">Scan rate (mV s<tspan font-size="6" dy="-3.4">-1</tspan><tspan dy="3.4">)</tspan></text>
<text transform="translate(18.1,266.5) rotate(-90)" font-size="9.75" text-anchor="middle" fill="#1a1a1a" stroke="#1a1a1a" stroke-width="0.1">Current density (mA cm<tspan font-size="6" dy="-3.4">-2</tspan><tspan dy="3.4">)</tspan></text>
<circle cx="47.5" cy="205.90" r="2.0" fill="url(#sph4f96d2)"/>
<line x1="55.40" y1="205.90" x2="71.30" y2="205.90" stroke="#4f96d2" stroke-width="1.0" />
<text x="73.90" y="208.62" font-size="7.6" text-anchor="start" fill="#1a1a1a" font-weight="normal"  stroke="#1a1a1a" stroke-width="0.1">4H/fcc Au NWs</text>
<circle cx="47.5" cy="215.15" r="2.0" fill="url(#sph2fae8c)"/>
<line x1="55.40" y1="215.15" x2="71.30" y2="215.15" stroke="#2fae8c" stroke-width="1.0" />
<text x="73.90" y="217.87" font-size="7.6" text-anchor="start" fill="#1a1a1a" font-weight="normal"  stroke="#1a1a1a" stroke-width="0.1">fcc Cu NPs</text>
<circle cx="47.5" cy="224.40" r="2.0" fill="url(#sphe8261b)"/>
<line x1="55.40" y1="224.40" x2="71.30" y2="224.40" stroke="#e8261b" stroke-width="1.0" />
<text x="73.90" y="227.12" font-size="7.6" text-anchor="start" fill="#1a1a1a" font-weight="normal"  stroke="#1a1a1a" stroke-width="0.1">4H/fcc Au-Cu BBNs-h</text>
<text x="168.4" y="245.12" font-size="7.6" fill="#1a1a1a" stroke="#1a1a1a" stroke-width="0.1">3.4 mF cm<tspan font-size="5.4" dy="-3">-2</tspan></text>
<text x="168.4" y="284.22" font-size="7.6" fill="#1a1a1a" stroke="#1a1a1a" stroke-width="0.1">2.6 mF cm<tspan font-size="5.4" dy="-3">-2</tspan></text>
<text x="168.8" y="338.12" font-size="7.6" fill="#1a1a1a" stroke="#1a1a1a" stroke-width="0.1">0.4 mF cm<tspan font-size="5.4" dy="-3">-2</tspan></text>
<text x="231.80" y="202.00" font-size="15.2" text-anchor="start" fill="#000" font-weight="bold"  stroke="#000" stroke-width="0.1">e</text>
<rect x="280.10" y="333.73" width="12.50" height="10.07" fill="#2aa886" />
<rect x="294.00" y="274.72" width="12.60" height="69.08" fill="#4a8bc7" />
<rect x="336.40" y="338.35" width="12.50" height="5.45" fill="#2aa886" />
<rect x="350.30" y="277.08" width="12.60" height="66.72" fill="#4a8bc7" />
<rect x="392.80" y="318.10" width="12.50" height="25.70" fill="#2aa886" />
<rect x="406.70" y="228.15" width="12.60" height="115.65" fill="#4a8bc7" />
<line x1="286.35" y1="323.45" x2="286.35" y2="343.80" stroke="rgba(40,40,40,0.62)" stroke-width="0.55" />
<line x1="284.35" y1="323.45" x2="288.35" y2="323.45" stroke="rgba(40,40,40,0.62)" stroke-width="0.55" />
<line x1="300.30" y1="268.96" x2="300.30" y2="280.48" stroke="rgba(40,40,40,0.62)" stroke-width="0.55" />
<line x1="298.30" y1="268.96" x2="302.30" y2="268.96" stroke="rgba(40,40,40,0.62)" stroke-width="0.55" />
<line x1="298.30" y1="280.48" x2="302.30" y2="280.48" stroke="rgba(40,40,40,0.62)" stroke-width="0.55" />
<line x1="342.65" y1="328.38" x2="342.65" y2="343.80" stroke="rgba(40,40,40,0.62)" stroke-width="0.55" />
<line x1="340.65" y1="328.38" x2="344.65" y2="328.38" stroke="rgba(40,40,40,0.62)" stroke-width="0.55" />
<line x1="356.60" y1="268.34" x2="356.60" y2="285.82" stroke="rgba(40,40,40,0.62)" stroke-width="0.55" />
<line x1="354.60" y1="268.34" x2="358.60" y2="268.34" stroke="rgba(40,40,40,0.62)" stroke-width="0.55" />
<line x1="354.60" y1="285.82" x2="358.60" y2="285.82" stroke="rgba(40,40,40,0.62)" stroke-width="0.55" />
<line x1="399.05" y1="308.23" x2="399.05" y2="327.97" stroke="rgba(40,40,40,0.62)" stroke-width="0.55" />
<line x1="397.05" y1="308.23" x2="401.05" y2="308.23" stroke="rgba(40,40,40,0.62)" stroke-width="0.55" />
<line x1="397.05" y1="327.97" x2="401.05" y2="327.97" stroke="rgba(40,40,40,0.62)" stroke-width="0.55" />
<line x1="413.00" y1="216.43" x2="413.00" y2="239.87" stroke="rgba(40,40,40,0.62)" stroke-width="0.55" />
<line x1="411.00" y1="216.43" x2="415.00" y2="216.43" stroke="rgba(40,40,40,0.62)" stroke-width="0.55" />
<line x1="411.00" y1="239.87" x2="415.00" y2="239.87" stroke="rgba(40,40,40,0.62)" stroke-width="0.55" />
<line x1="280.30" y1="333.23" x2="293.50" y2="275.02" stroke="#222" stroke-width="0.5" />
<polygon points="293.50,275.02 294.08,279.25 291.15,278.59" fill="#222"/>
<line x1="336.60" y1="337.85" x2="349.80" y2="277.38" stroke="#222" stroke-width="0.5" />
<polygon points="349.80,277.38 350.41,281.61 347.48,280.97" fill="#222"/>
<line x1="393.00" y1="317.60" x2="406.20" y2="228.45" stroke="#222" stroke-width="0.5" />
<polygon points="406.20,228.45 407.10,232.63 404.13,232.19" fill="#222"/>
<text x="270.30" y="303.32" font-size="7.6" text-anchor="start" fill="#1a1a1a" font-weight="normal"  stroke="#1a1a1a" stroke-width="0.1">X6.6</text>
<text x="323.20" y="303.32" font-size="7.6" text-anchor="start" fill="#1a1a1a" font-weight="normal"  stroke="#1a1a1a" stroke-width="0.1">X10.9</text>
<text x="383.20" y="269.92" font-size="7.6" text-anchor="start" fill="#1a1a1a" font-weight="normal"  stroke="#1a1a1a" stroke-width="0.1">X4.4</text>
<rect x="264.80" y="200.10" width="169.70" height="143.70" fill="none" stroke="#3a3a3a" stroke-width="0.9"/>
<line x1="263.50" y1="323.24" x2="264.80" y2="323.24" stroke="#3a3a3a" stroke-width="0.8" />
<line x1="263.50" y1="282.12" x2="264.80" y2="282.12" stroke="#3a3a3a" stroke-width="0.8" />
<line x1="263.50" y1="241.00" x2="264.80" y2="241.00" stroke="#3a3a3a" stroke-width="0.8" />
<line x1="262.40" y1="343.80" x2="264.80" y2="343.80" stroke="#3a3a3a" stroke-width="0.8" />
<text x="260.30" y="346.52" font-size="7.6" text-anchor="end" fill="#1a1a1a" font-weight="normal"  stroke="#1a1a1a" stroke-width="0.1">0</text>
<line x1="262.40" y1="302.68" x2="264.80" y2="302.68" stroke="#3a3a3a" stroke-width="0.8" />
<text x="260.30" y="305.40" font-size="7.6" text-anchor="end" fill="#1a1a1a" font-weight="normal"  stroke="#1a1a1a" stroke-width="0.1">4</text>
<line x1="262.40" y1="261.56" x2="264.80" y2="261.56" stroke="#3a3a3a" stroke-width="0.8" />
<text x="260.30" y="264.28" font-size="7.6" text-anchor="end" fill="#1a1a1a" font-weight="normal"  stroke="#1a1a1a" stroke-width="0.1">8</text>
<line x1="262.40" y1="220.44" x2="264.80" y2="220.44" stroke="#3a3a3a" stroke-width="0.8" />
<text x="260.30" y="223.16" font-size="7.6" text-anchor="end" fill="#1a1a1a" font-weight="normal"  stroke="#1a1a1a" stroke-width="0.1">12</text>
<line x1="265.00" y1="343.80" x2="265.00" y2="345.10" stroke="#3a3a3a" stroke-width="0.8" />
<line x1="321.50" y1="343.80" x2="321.50" y2="345.10" stroke="#3a3a3a" stroke-width="0.8" />
<line x1="377.80" y1="343.80" x2="377.80" y2="345.10" stroke="#3a3a3a" stroke-width="0.8" />
<line x1="434.20" y1="343.80" x2="434.20" y2="345.10" stroke="#3a3a3a" stroke-width="0.8" />
<line x1="293.30" y1="343.80" x2="293.30" y2="346.20" stroke="#3a3a3a" stroke-width="0.8" />
<text x="293.30" y="355.22" font-size="7.6" text-anchor="middle" fill="#1a1a1a" font-weight="normal"  stroke="#1a1a1a" stroke-width="0.1">-1.0</text>
<line x1="349.60" y1="343.80" x2="349.60" y2="346.20" stroke="#3a3a3a" stroke-width="0.8" />
<text x="349.60" y="355.22" font-size="7.6" text-anchor="middle" fill="#1a1a1a" font-weight="normal"  stroke="#1a1a1a" stroke-width="0.1">-0.8</text>
<line x1="406.00" y1="343.80" x2="406.00" y2="346.20" stroke="#3a3a3a" stroke-width="0.8" />
<text x="406.00" y="355.22" font-size="7.6" text-anchor="middle" fill="#1a1a1a" font-weight="normal"  stroke="#1a1a1a" stroke-width="0.1">-0.6</text>
<text x="349.60" y="368.39" font-size="9.75" text-anchor="middle" fill="#1a1a1a" stroke="#1a1a1a" stroke-width="0.1">E<tspan font-size="6.4" dy="2.4">no-iR-correction</tspan><tspan dy="-2.4"> (V vs RHE)</tspan></text>
<text transform="translate(246.8,272.2) rotate(-90)" font-size="9.75" text-anchor="middle" fill="#1a1a1a" stroke="#1a1a1a" stroke-width="0.1">Faradaic efficiency (NO<tspan font-size="6" dy="2.2">2</tspan><tspan font-size="6" dy="-5.6">−</tspan><tspan dy="3.4">, %)</tspan></text>
<rect x="267.50" y="202.90" width="15.10" height="6.40" fill="#4a8bc7" />
<text x="285.10" y="208.82" font-size="7.6" text-anchor="start" fill="#1a1a1a" font-weight="normal"  stroke="#1a1a1a" stroke-width="0.1">4H/fcc Au NWs</text>
<rect x="267.50" y="212.20" width="15.10" height="6.30" fill="#2aa886" />
<text x="285.10" y="218.02" font-size="7.6" text-anchor="start" fill="#1a1a1a" font-weight="normal"  stroke="#1a1a1a" stroke-width="0.1">fcc Cu NPs</text>
<text x="456.50" y="202.00" font-size="15.2" text-anchor="start" fill="#000" font-weight="bold"  stroke="#000" stroke-width="0.1">f</text>
<defs><linearGradient id="fg" x1="0" y1="0" x2="0" y2="1"><stop offset="0" stop-color="#e01610"/><stop offset="1" stop-color="#f98a80"/></linearGradient></defs>
<rect x="494.4" y="249.43" width="25.60" height="94.07" fill="url(#fg)" stroke="#e8463e" stroke-width="0.4"/>
<rect x="536.8" y="230.50" width="25.30" height="113.00" fill="url(#fg)" stroke="#e8463e" stroke-width="0.4"/>
<rect x="579.2" y="204.12" width="25.50" height="139.38" fill="url(#fg)" stroke="#e8463e" stroke-width="0.4"/>
<rect x="621.2" y="240.54" width="25.70" height="102.96" fill="url(#fg)" stroke="#e8463e" stroke-width="0.4"/>
<line x1="486.10" y1="200.10" x2="655.60" y2="200.10" stroke="#8a8a8a" stroke-width="1.0" />
<line x1="486.10" y1="343.50" x2="655.60" y2="343.50" stroke="#3a3a3a" stroke-width="1.0" />
<line x1="486.10" y1="200.10" x2="486.10" y2="343.50" stroke="#ec6a62" stroke-width="0.9" />
<line x1="655.60" y1="200.10" x2="655.60" y2="343.50" stroke="#7eb2e0" stroke-width="0.9" />
<line x1="484.80" y1="329.16" x2="486.10" y2="329.16" stroke="#ec6a62" stroke-width="0.8" />
<line x1="484.80" y1="300.48" x2="486.10" y2="300.48" stroke="#ec6a62" stroke-width="0.8" />
<line x1="484.80" y1="271.80" x2="486.10" y2="271.80" stroke="#ec6a62" stroke-width="0.8" />
<line x1="484.80" y1="243.12" x2="486.10" y2="243.12" stroke="#ec6a62" stroke-width="0.8" />
<line x1="484.80" y1="214.44" x2="486.10" y2="214.44" stroke="#ec6a62" stroke-width="0.8" />
<line x1="483.70" y1="343.50" x2="486.10" y2="343.50" stroke="#ec6a62" stroke-width="0.8" />
<text x="481.60" y="346.22" font-size="7.6" text-anchor="end" fill="#e3261c" font-weight="normal"  stroke="#e3261c" stroke-width="0.1">50</text>
<line x1="483.70" y1="314.82" x2="486.10" y2="314.82" stroke="#ec6a62" stroke-width="0.8" />
<text x="481.60" y="317.54" font-size="7.6" text-anchor="end" fill="#e3261c" font-weight="normal"  stroke="#e3261c" stroke-width="0.1">60</text>
<line x1="483.70" y1="286.14" x2="486.10" y2="286.14" stroke="#ec6a62" stroke-width="0.8" />
<text x="481.60" y="288.86" font-size="7.6" text-anchor="end" fill="#e3261c" font-weight="normal"  stroke="#e3261c" stroke-width="0.1">70</text>
<line x1="483.70" y1="257.46" x2="486.10" y2="257.46" stroke="#ec6a62" stroke-width="0.8" />
<text x="481.60" y="260.18" font-size="7.6" text-anchor="end" fill="#e3261c" font-weight="normal"  stroke="#e3261c" stroke-width="0.1">80</text>
<line x1="483.70" y1="228.78" x2="486.10" y2="228.78" stroke="#ec6a62" stroke-width="0.8" />
<text x="481.60" y="231.50" font-size="7.6" text-anchor="end" fill="#e3261c" font-weight="normal"  stroke="#e3261c" stroke-width="0.1">90</text>
<line x1="483.70" y1="200.10" x2="486.10" y2="200.10" stroke="#ec6a62" stroke-width="0.8" />
<text x="481.60" y="202.82" font-size="7.6" text-anchor="end" fill="#e3261c" font-weight="normal"  stroke="#e3261c" stroke-width="0.1">100</text>
<line x1="655.60" y1="329.16" x2="656.90" y2="329.16" stroke="#7eb2e0" stroke-width="0.8" />
<line x1="655.60" y1="300.48" x2="656.90" y2="300.48" stroke="#7eb2e0" stroke-width="0.8" />
<line x1="655.60" y1="271.80" x2="656.90" y2="271.80" stroke="#7eb2e0" stroke-width="0.8" />
<line x1="655.60" y1="243.12" x2="656.90" y2="243.12" stroke="#7eb2e0" stroke-width="0.8" />
<line x1="655.60" y1="214.44" x2="656.90" y2="214.44" stroke="#7eb2e0" stroke-width="0.8" />
<line x1="655.60" y1="343.50" x2="658.00" y2="343.50" stroke="#7eb2e0" stroke-width="0.8" />
<text x="660.10" y="346.22" font-size="7.6" text-anchor="start" fill="#4d93d0" font-weight="normal"  stroke="#4d93d0" stroke-width="0.1">0</text>
<line x1="655.60" y1="314.82" x2="658.00" y2="314.82" stroke="#7eb2e0" stroke-width="0.8" />
<text x="660.10" y="317.54" font-size="7.6" text-anchor="start" fill="#4d93d0" font-weight="normal"  stroke="#4d93d0" stroke-width="0.1">3</text>
<line x1="655.60" y1="286.14" x2="658.00" y2="286.14" stroke="#7eb2e0" stroke-width="0.8" />
<text x="660.10" y="288.86" font-size="7.6" text-anchor="start" fill="#4d93d0" font-weight="normal"  stroke="#4d93d0" stroke-width="0.1">6</text>
<line x1="655.60" y1="257.46" x2="658.00" y2="257.46" stroke="#7eb2e0" stroke-width="0.8" />
<text x="660.10" y="260.18" font-size="7.6" text-anchor="start" fill="#4d93d0" font-weight="normal"  stroke="#4d93d0" stroke-width="0.1">9</text>
<line x1="655.60" y1="228.78" x2="658.00" y2="228.78" stroke="#7eb2e0" stroke-width="0.8" />
<text x="660.10" y="231.50" font-size="7.6" text-anchor="start" fill="#4d93d0" font-weight="normal"  stroke="#4d93d0" stroke-width="0.1">12</text>
<line x1="655.60" y1="200.10" x2="658.00" y2="200.10" stroke="#7eb2e0" stroke-width="0.8" />
<text x="660.10" y="202.82" font-size="7.6" text-anchor="start" fill="#4d93d0" font-weight="normal"  stroke="#4d93d0" stroke-width="0.1">15</text>
<polyline points="507,271.4 549.5,245.9 591.5,211.5 633.8,234.0" fill="none" stroke="#4a90cf" stroke-width="1.0"/>
<defs><radialGradient id="ball" cx="0.35" cy="0.35" r="0.7"><stop offset="0" stop-color="#cfe6f8"/><stop offset="0.45" stop-color="#4d97d6"/><stop offset="1" stop-color="#2b6fb0"/></radialGradient></defs>
<circle cx="507" cy="271.4" r="2.6" fill="url(#ball)"/>
<circle cx="549.5" cy="245.9" r="2.6" fill="url(#ball)"/>
<circle cx="591.5" cy="211.5" r="2.6" fill="url(#ball)"/>
<circle cx="633.8" cy="234.0" r="2.6" fill="url(#ball)"/>
<text x="488.00" y="208.67" font-size="7.45" text-anchor="start" fill="#1a1a1a" font-weight="normal"  stroke="#1a1a1a" stroke-width="0.1">-0.6 V vs RHE</text>
<line x1="513.80" y1="219.90" x2="493.60" y2="219.90" stroke="#f08a84" stroke-width="1.1" />
<polygon points="493.60,219.90 497.10,218.20 497.10,221.60" fill="#e3261c"/>
<line x1="627.90" y1="219.90" x2="648.00" y2="219.90" stroke="#9cc6ea" stroke-width="1.1" />
<polygon points="648.00,219.90 644.50,221.60 644.50,218.20" fill="#3d8ad0"/>
<text transform="translate(463.8,271.8) rotate(-90)" font-size="9.75" text-anchor="middle" fill="#e3261c" stroke="#e3261c" stroke-width="0.1">Faradaic efficiency (NH<tspan font-size="6" dy="2.2">3</tspan><tspan dy="-2.2">, %)</tspan></text>
<text transform="translate(679.5,271.8) rotate(-90)" font-size="9.75" text-anchor="middle" fill="#4d93d0" stroke="#4d93d0" stroke-width="0.1">Yield rate (mg h<tspan font-size="6" dy="-3.4">-1</tspan><tspan dy="3.4"> cm</tspan><tspan font-size="6" dy="-3.4">-2</tspan><tspan dy="3.4">)</tspan></text>
<g transform="translate(512.70,348.0) rotate(-30)"><text x="0" y="0" font-size="7.6" text-anchor="end" fill="#1a1a1a" stroke="#1a1a1a" stroke-width="0.1">4H/fcc Au-Cu</text><text x="-46.6" y="8.3" font-size="7.6" text-anchor="start" fill="#1a1a1a" stroke="#1a1a1a" stroke-width="0.1">BBNs-l</text></g>
<g transform="translate(554.95,348.0) rotate(-30)"><text x="0" y="0" font-size="7.6" text-anchor="end" fill="#1a1a1a" stroke="#1a1a1a" stroke-width="0.1">4H/fcc Au-Cu</text><text x="-46.6" y="8.3" font-size="7.6" text-anchor="start" fill="#1a1a1a" stroke="#1a1a1a" stroke-width="0.1">BBNs-m</text></g>
<g transform="translate(597.45,348.0) rotate(-30)"><text x="0" y="0" font-size="7.6" text-anchor="end" fill="#1a1a1a" stroke="#1a1a1a" stroke-width="0.1">4H/fcc Au-Cu</text><text x="-46.6" y="8.3" font-size="7.6" text-anchor="start" fill="#1a1a1a" stroke="#1a1a1a" stroke-width="0.1">BBNs-h</text></g>
<g transform="translate(639.55,348.0) rotate(-30)"><text x="0" y="0" font-size="7.6" text-anchor="end" fill="#1a1a1a" stroke="#1a1a1a" stroke-width="0.1">4H/fcc Au-Cu</text><text x="-46.6" y="8.3" font-size="7.6" text-anchor="start" fill="#1a1a1a" stroke="#1a1a1a" stroke-width="0.1">CSNs</text></g>
<line x1="507.20" y1="343.50" x2="507.20" y2="345.90" stroke="#3a3a3a" stroke-width="0.8" />
<line x1="549.45" y1="343.50" x2="549.45" y2="345.90" stroke="#3a3a3a" stroke-width="0.8" />
<line x1="591.95" y1="343.50" x2="591.95" y2="345.90" stroke="#3a3a3a" stroke-width="0.8" />
<line x1="634.05" y1="343.50" x2="634.05" y2="345.90" stroke="#3a3a3a" stroke-width="0.8" />
<text x="321.40" y="403.30" font-size="15.2" text-anchor="start" fill="#000" font-weight="bold"  stroke="#000" stroke-width="0.1">h</text>
<rect x="515.50" y="419.16" width="12.60" height="119.14" fill="#4a8bc7" />
<rect x="536.00" y="413.00" width="12.60" height="125.30" fill="#4a8bc7" />
<rect x="556.50" y="411.33" width="12.60" height="126.97" fill="#4a8bc7" />
<rect x="577.00" y="415.31" width="12.60" height="122.99" fill="#4a8bc7" />
<rect x="597.50" y="437.24" width="12.60" height="101.06" fill="#4a8bc7" />
<rect x="618.00" y="463.79" width="12.60" height="74.51" fill="#4a8bc7" />
<rect x="638.50" y="499.57" width="12.60" height="38.73" fill="#4a8bc7" />
<line x1="521.80" y1="415.95" x2="521.80" y2="422.36" stroke="rgba(40,40,40,0.62)" stroke-width="0.55" />
<line x1="519.80" y1="415.95" x2="523.80" y2="415.95" stroke="rgba(40,40,40,0.62)" stroke-width="0.55" />
<line x1="519.80" y1="422.36" x2="523.80" y2="422.36" stroke="rgba(40,40,40,0.62)" stroke-width="0.55" />
<line x1="542.30" y1="412.36" x2="542.30" y2="413.64" stroke="rgba(40,40,40,0.62)" stroke-width="0.55" />
<line x1="540.30" y1="412.36" x2="544.30" y2="412.36" stroke="rgba(40,40,40,0.62)" stroke-width="0.55" />
<line x1="540.30" y1="413.64" x2="544.30" y2="413.64" stroke="rgba(40,40,40,0.62)" stroke-width="0.55" />
<line x1="562.80" y1="410.05" x2="562.80" y2="412.61" stroke="rgba(40,40,40,0.62)" stroke-width="0.55" />
<line x1="560.80" y1="410.05" x2="564.80" y2="410.05" stroke="rgba(40,40,40,0.62)" stroke-width="0.55" />
<line x1="560.80" y1="412.61" x2="564.80" y2="412.61" stroke="rgba(40,40,40,0.62)" stroke-width="0.55" />
<line x1="583.30" y1="413.77" x2="583.30" y2="416.85" stroke="rgba(40,40,40,0.62)" stroke-width="0.55" />
<line x1="581.30" y1="413.77" x2="585.30" y2="413.77" stroke="rgba(40,40,40,0.62)" stroke-width="0.55" />
<line x1="581.30" y1="416.85" x2="585.30" y2="416.85" stroke="rgba(40,40,40,0.62)" stroke-width="0.55" />
<line x1="603.80" y1="435.32" x2="603.80" y2="439.16" stroke="rgba(40,40,40,0.62)" stroke-width="0.55" />
<line x1="601.80" y1="435.32" x2="605.80" y2="435.32" stroke="rgba(40,40,40,0.62)" stroke-width="0.55" />
<line x1="601.80" y1="439.16" x2="605.80" y2="439.16" stroke="rgba(40,40,40,0.62)" stroke-width="0.55" />
<line x1="624.30" y1="460.58" x2="624.30" y2="466.99" stroke="rgba(40,40,40,0.62)" stroke-width="0.55" />
<line x1="622.30" y1="460.58" x2="626.30" y2="460.58" stroke="rgba(40,40,40,0.62)" stroke-width="0.55" />
<line x1="622.30" y1="466.99" x2="626.30" y2="466.99" stroke="rgba(40,40,40,0.62)" stroke-width="0.55" />
<line x1="644.80" y1="497.90" x2="644.80" y2="501.24" stroke="rgba(40,40,40,0.62)" stroke-width="0.55" />
<line x1="642.80" y1="497.90" x2="646.80" y2="497.90" stroke="rgba(40,40,40,0.62)" stroke-width="0.55" />
<line x1="642.80" y1="501.24" x2="646.80" y2="501.24" stroke="rgba(40,40,40,0.62)" stroke-width="0.55" />
<line x1="368.20" y1="464.30" x2="511.30" y2="464.30" stroke="#555" stroke-width="0.8" stroke-dasharray="1.6,1.4"/>
<line x1="511.30" y1="422.60" x2="655.20" y2="422.60" stroke="#555" stroke-width="0.8" stroke-dasharray="1.6,1.4"/>
<polyline points="378.50,420.83 398.82,415.56 419.14,444.31 439.46,473.44 459.78,501.97 480.10,517.20 500.42,529.53" fill="none" stroke="#e8261b" stroke-width="1.0"/>
<defs><radialGradient id="rball" cx="0.35" cy="0.35" r="0.7"><stop offset="0" stop-color="#ffb0a8"/><stop offset="0.45" stop-color="#e8261b"/><stop offset="1" stop-color="#b01008"/></radialGradient></defs>
<circle cx="378.50" cy="420.83" r="2.6" fill="url(#rball)"/>
<circle cx="398.82" cy="415.56" r="2.6" fill="url(#rball)"/>
<circle cx="419.14" cy="444.31" r="2.6" fill="url(#rball)"/>
<circle cx="439.46" cy="473.44" r="2.6" fill="url(#rball)"/>
<circle cx="459.78" cy="501.97" r="2.6" fill="url(#rball)"/>
<circle cx="480.10" cy="517.20" r="2.6" fill="url(#rball)"/>
<circle cx="500.42" cy="529.53" r="2.6" fill="url(#rball)"/>
<line x1="368.20" y1="397.30" x2="655.20" y2="397.30" stroke="#3a3a3a" stroke-width="1.0" />
<line x1="368.20" y1="538.30" x2="655.20" y2="538.30" stroke="#3a3a3a" stroke-width="1.0" />
<line x1="511.30" y1="397.30" x2="511.30" y2="538.30" stroke="#111" stroke-width="0.9" />
<line x1="368.20" y1="397.30" x2="368.20" y2="538.30" stroke="#ec6a62" stroke-width="0.9" />
<line x1="655.20" y1="397.30" x2="655.20" y2="538.30" stroke="#7eb2e0" stroke-width="0.9" />
<line x1="366.90" y1="523.44" x2="368.20" y2="523.44" stroke="#ec6a62" stroke-width="0.8" />
<line x1="366.90" y1="493.72" x2="368.20" y2="493.72" stroke="#ec6a62" stroke-width="0.8" />
<line x1="366.90" y1="464.00" x2="368.20" y2="464.00" stroke="#ec6a62" stroke-width="0.8" />
<line x1="366.90" y1="434.28" x2="368.20" y2="434.28" stroke="#ec6a62" stroke-width="0.8" />
<line x1="366.90" y1="404.56" x2="368.20" y2="404.56" stroke="#ec6a62" stroke-width="0.8" />
<line x1="365.80" y1="538.30" x2="368.20" y2="538.30" stroke="#ec6a62" stroke-width="0.8" />
<text x="363.70" y="541.02" font-size="7.6" text-anchor="end" fill="#e3261c" font-weight="normal"  stroke="#e3261c" stroke-width="0.1">0</text>
<line x1="365.80" y1="508.58" x2="368.20" y2="508.58" stroke="#ec6a62" stroke-width="0.8" />
<text x="363.70" y="511.30" font-size="7.6" text-anchor="end" fill="#e3261c" font-weight="normal"  stroke="#e3261c" stroke-width="0.1">400</text>
<line x1="365.80" y1="478.86" x2="368.20" y2="478.86" stroke="#ec6a62" stroke-width="0.8" />
<text x="363.70" y="481.58" font-size="7.6" text-anchor="end" fill="#e3261c" font-weight="normal"  stroke="#e3261c" stroke-width="0.1">800</text>
<line x1="365.80" y1="449.14" x2="368.20" y2="449.14" stroke="#ec6a62" stroke-width="0.8" />
<text x="363.70" y="451.86" font-size="7.6" text-anchor="end" fill="#e3261c" font-weight="normal"  stroke="#e3261c" stroke-width="0.1">1200</text>
<line x1="365.80" y1="419.42" x2="368.20" y2="419.42" stroke="#ec6a62" stroke-width="0.8" />
<text x="363.70" y="422.14" font-size="7.6" text-anchor="end" fill="#e3261c" font-weight="normal"  stroke="#e3261c" stroke-width="0.1">1600</text>
<line x1="655.20" y1="525.47" x2="656.50" y2="525.47" stroke="#7eb2e0" stroke-width="0.8" />
<line x1="655.20" y1="499.82" x2="656.50" y2="499.82" stroke="#7eb2e0" stroke-width="0.8" />
<line x1="655.20" y1="474.17" x2="656.50" y2="474.17" stroke="#7eb2e0" stroke-width="0.8" />
<line x1="655.20" y1="448.52" x2="656.50" y2="448.52" stroke="#7eb2e0" stroke-width="0.8" />
<line x1="655.20" y1="422.87" x2="656.50" y2="422.87" stroke="#7eb2e0" stroke-width="0.8" />
<line x1="655.20" y1="538.30" x2="657.60" y2="538.30" stroke="#7eb2e0" stroke-width="0.8" />
<text x="659.70" y="541.02" font-size="7.6" text-anchor="start" fill="#4d93d0" font-weight="normal"  stroke="#4d93d0" stroke-width="0.1">0</text>
<line x1="655.20" y1="512.65" x2="657.60" y2="512.65" stroke="#7eb2e0" stroke-width="0.8" />
<text x="659.70" y="515.37" font-size="7.6" text-anchor="start" fill="#4d93d0" font-weight="normal"  stroke="#4d93d0" stroke-width="0.1">20</text>
<line x1="655.20" y1="487.00" x2="657.60" y2="487.00" stroke="#7eb2e0" stroke-width="0.8" />
<text x="659.70" y="489.72" font-size="7.6" text-anchor="start" fill="#4d93d0" font-weight="normal"  stroke="#4d93d0" stroke-width="0.1">40</text>
<line x1="655.20" y1="461.35" x2="657.60" y2="461.35" stroke="#7eb2e0" stroke-width="0.8" />
<text x="659.70" y="464.07" font-size="7.6" text-anchor="start" fill="#4d93d0" font-weight="normal"  stroke="#4d93d0" stroke-width="0.1">60</text>
<line x1="655.20" y1="435.70" x2="657.60" y2="435.70" stroke="#7eb2e0" stroke-width="0.8" />
<text x="659.70" y="438.42" font-size="7.6" text-anchor="start" fill="#4d93d0" font-weight="normal"  stroke="#4d93d0" stroke-width="0.1">80</text>
<line x1="655.20" y1="410.05" x2="657.60" y2="410.05" stroke="#7eb2e0" stroke-width="0.8" />
<text x="659.70" y="412.77" font-size="7.6" text-anchor="start" fill="#4d93d0" font-weight="normal"  stroke="#4d93d0" stroke-width="0.1">100</text>
<line x1="368.34" y1="538.30" x2="368.34" y2="539.60" stroke="#3a3a3a" stroke-width="0.8" />
<line x1="388.66" y1="538.30" x2="388.66" y2="539.60" stroke="#3a3a3a" stroke-width="0.8" />
<line x1="408.98" y1="538.30" x2="408.98" y2="539.60" stroke="#3a3a3a" stroke-width="0.8" />
<line x1="429.30" y1="538.30" x2="429.30" y2="539.60" stroke="#3a3a3a" stroke-width="0.8" />
<line x1="449.62" y1="538.30" x2="449.62" y2="539.60" stroke="#3a3a3a" stroke-width="0.8" />
<line x1="469.94" y1="538.30" x2="469.94" y2="539.60" stroke="#3a3a3a" stroke-width="0.8" />
<line x1="490.26" y1="538.30" x2="490.26" y2="539.60" stroke="#3a3a3a" stroke-width="0.8" />
<line x1="378.50" y1="538.30" x2="378.50" y2="540.70" stroke="#3a3a3a" stroke-width="0.8" />
<text x="378.50" y="550.12" font-size="7.6" text-anchor="middle" fill="#1a1a1a" font-weight="normal"  stroke="#1a1a1a" stroke-width="0.1">−1.0</text>
<line x1="398.82" y1="538.30" x2="398.82" y2="540.70" stroke="#3a3a3a" stroke-width="0.8" />
<text x="398.82" y="550.12" font-size="7.6" text-anchor="middle" fill="#1a1a1a" font-weight="normal"  stroke="#1a1a1a" stroke-width="0.1">−0.8</text>
<line x1="419.14" y1="538.30" x2="419.14" y2="540.70" stroke="#3a3a3a" stroke-width="0.8" />
<text x="419.14" y="550.12" font-size="7.6" text-anchor="middle" fill="#1a1a1a" font-weight="normal"  stroke="#1a1a1a" stroke-width="0.1">−0.6</text>
<line x1="439.46" y1="538.30" x2="439.46" y2="540.70" stroke="#3a3a3a" stroke-width="0.8" />
<text x="439.46" y="550.12" font-size="7.6" text-anchor="middle" fill="#1a1a1a" font-weight="normal"  stroke="#1a1a1a" stroke-width="0.1">−0.4</text>
<line x1="459.78" y1="538.30" x2="459.78" y2="540.70" stroke="#3a3a3a" stroke-width="0.8" />
<text x="459.78" y="550.12" font-size="7.6" text-anchor="middle" fill="#1a1a1a" font-weight="normal"  stroke="#1a1a1a" stroke-width="0.1">−0.2</text>
<line x1="480.10" y1="538.30" x2="480.10" y2="540.70" stroke="#3a3a3a" stroke-width="0.8" />
<text x="480.10" y="550.12" font-size="7.6" text-anchor="middle" fill="#1a1a1a" font-weight="normal"  stroke="#1a1a1a" stroke-width="0.1">0.0</text>
<line x1="500.42" y1="538.30" x2="500.42" y2="540.70" stroke="#3a3a3a" stroke-width="0.8" />
<text x="500.42" y="550.12" font-size="7.6" text-anchor="middle" fill="#1a1a1a" font-weight="normal"  stroke="#1a1a1a" stroke-width="0.1">0.2</text>
<line x1="532.05" y1="538.30" x2="532.05" y2="539.60" stroke="#3a3a3a" stroke-width="0.8" />
<line x1="552.55" y1="538.30" x2="552.55" y2="539.60" stroke="#3a3a3a" stroke-width="0.8" />
<line x1="573.05" y1="538.30" x2="573.05" y2="539.60" stroke="#3a3a3a" stroke-width="0.8" />
<line x1="593.55" y1="538.30" x2="593.55" y2="539.60" stroke="#3a3a3a" stroke-width="0.8" />
<line x1="614.05" y1="538.30" x2="614.05" y2="539.60" stroke="#3a3a3a" stroke-width="0.8" />
<line x1="634.55" y1="538.30" x2="634.55" y2="539.60" stroke="#3a3a3a" stroke-width="0.8" />
<line x1="655.05" y1="538.30" x2="655.05" y2="539.60" stroke="#3a3a3a" stroke-width="0.8" />
<line x1="521.80" y1="538.30" x2="521.80" y2="540.70" stroke="#3a3a3a" stroke-width="0.8" />
<text x="521.80" y="550.12" font-size="7.6" text-anchor="middle" fill="#1a1a1a" font-weight="normal"  stroke="#1a1a1a" stroke-width="0.1">−1.0</text>
<line x1="542.30" y1="538.30" x2="542.30" y2="540.70" stroke="#3a3a3a" stroke-width="0.8" />
<text x="542.30" y="550.12" font-size="7.6" text-anchor="middle" fill="#1a1a1a" font-weight="normal"  stroke="#1a1a1a" stroke-width="0.1">−0.8</text>
<line x1="562.80" y1="538.30" x2="562.80" y2="540.70" stroke="#3a3a3a" stroke-width="0.8" />
<text x="562.80" y="550.12" font-size="7.6" text-anchor="middle" fill="#1a1a1a" font-weight="normal"  stroke="#1a1a1a" stroke-width="0.1">−0.6</text>
<line x1="583.30" y1="538.30" x2="583.30" y2="540.70" stroke="#3a3a3a" stroke-width="0.8" />
<text x="583.30" y="550.12" font-size="7.6" text-anchor="middle" fill="#1a1a1a" font-weight="normal"  stroke="#1a1a1a" stroke-width="0.1">−0.4</text>
<line x1="603.80" y1="538.30" x2="603.80" y2="540.70" stroke="#3a3a3a" stroke-width="0.8" />
<text x="603.80" y="550.12" font-size="7.6" text-anchor="middle" fill="#1a1a1a" font-weight="normal"  stroke="#1a1a1a" stroke-width="0.1">−0.2</text>
<line x1="624.30" y1="538.30" x2="624.30" y2="540.70" stroke="#3a3a3a" stroke-width="0.8" />
<text x="624.30" y="550.12" font-size="7.6" text-anchor="middle" fill="#1a1a1a" font-weight="normal"  stroke="#1a1a1a" stroke-width="0.1">0.0</text>
<line x1="644.80" y1="538.30" x2="644.80" y2="540.70" stroke="#3a3a3a" stroke-width="0.8" />
<text x="644.80" y="550.12" font-size="7.6" text-anchor="middle" fill="#1a1a1a" font-weight="normal"  stroke="#1a1a1a" stroke-width="0.1">0.2</text>
<text x="516.50" y="563.79" font-size="9.75" text-anchor="middle" fill="#1a1a1a" stroke="#1a1a1a" stroke-width="0.1">E<tspan font-size="6.4" dy="2.4">no-iR-correction</tspan><tspan dy="-2.4"> (V vs RHE)</tspan></text>
<text x="507" y="460.95" font-size="7.4" text-anchor="end" fill="#1a1a1a" stroke="#1a1a1a" stroke-width="0.1">above 1000 mA cm<tspan font-size="5.2" dy="-3">-2</tspan></text>
<text x="604.40" y="419.12" font-size="7.6" text-anchor="start" fill="#1a1a1a" font-weight="normal"  stroke="#1a1a1a" stroke-width="0.1">above 90%</text>
<line x1="492.90" y1="402.80" x2="477.20" y2="402.80" stroke="#f08a84" stroke-width="1.1" />
<polygon points="477.20,402.80 480.70,401.10 480.70,404.50" fill="#e3261c"/>
<text x="495.9" y="406" font-size="8" fill="#e8261b" stroke="#e8261b" stroke-width="0.1">j<tspan font-size="5.4" dy="1.5">NH3</tspan></text>
<text x="515.2" y="406" font-size="8" fill="#4d93d0" stroke="#4d93d0" stroke-width="0.1">FE<tspan font-size="5.4" dy="1.5">NH3</tspan></text>
<line x1="538.50" y1="403.00" x2="554.20" y2="403.00" stroke="#9cc6ea" stroke-width="1.1" />
<polygon points="554.20,403.00 550.70,404.70 550.70,401.30" fill="#3d8ad0"/>
<text transform="translate(342.5,467) rotate(-90)" font-size="9.75" text-anchor="middle" fill="#e3261c" stroke="#e3261c" stroke-width="0.1">Partial current density (NH<tspan font-size="6" dy="2.2">3</tspan><tspan dy="-2.2">, mA cm</tspan><tspan font-size="6" dy="-3.4">-2</tspan><tspan dy="3.4">)</tspan></text>
<text transform="translate(680.5,467) rotate(-90)" font-size="9.75" text-anchor="middle" fill="#4d93d0" stroke="#4d93d0" stroke-width="0.1">Faradaic efficiency (NH<tspan font-size="6" dy="2.2">3</tspan><tspan dy="-2.2">, %)</tspan></text>
<text x="-0.50" y="403.50" font-size="15.2" text-anchor="start" fill="#000" font-weight="bold"  stroke="#000" stroke-width="0.1">g</text>
<defs>
<linearGradient id="bw" x1="0" y1="0" x2="0" y2="1"><stop offset="0" stop-color="#8fd8f0"/><stop offset="0.03" stop-color="#44bde8"/><stop offset="0.6" stop-color="#3cb9e6"/><stop offset="0.8" stop-color="#6ccbec"/><stop offset="0.95" stop-color="#d4eef8"/><stop offset="1" stop-color="#ffffff" stop-opacity="0"/></linearGradient>
<linearGradient id="yw" x1="0" y1="0" x2="0" y2="1"><stop offset="0" stop-color="#f2ecc8"/><stop offset="0.04" stop-color="#e7dfa6"/><stop offset="0.6" stop-color="#e9e1aa"/><stop offset="0.8" stop-color="#efe8c0"/><stop offset="0.95" stop-color="#f8f5e4"/><stop offset="1" stop-color="#ffffff" stop-opacity="0"/></linearGradient>
<linearGradient id="pl" x1="0" y1="0" x2="1" y2="0"><stop offset="0" stop-color="#c4e8ec"/><stop offset="0.25" stop-color="#a6d9de"/><stop offset="1" stop-color="#9fd5da"/></linearGradient>
<linearGradient id="plr" x1="0" y1="0" x2="1" y2="0"><stop offset="0" stop-color="#9bd3d8"/><stop offset="0.8" stop-color="#a3d8dd"/><stop offset="1" stop-color="#b8e2e6"/></linearGradient>
<pattern id="cu" width="9" height="9" patternUnits="userSpaceOnUse"><rect width="9" height="9" fill="#5a3a32"/><circle cx="2.91" cy="1.36" r="0.71" fill="#f0c4b4"/><circle cx="7.39" cy="0.85" r="0.68" fill="#e2aa98"/><circle cx="0.34" cy="3.90" r="0.48" fill="#f0c4b4"/><circle cx="4.96" cy="0.53" r="0.68" fill="#e2aa98"/><circle cx="5.68" cy="5.25" r="0.47" fill="#f6d2c4"/><circle cx="0.45" cy="1.99" r="0.67" fill="#e2aa98"/><circle cx="2.61" cy="1.30" r="0.50" fill="#d89c8a"/><circle cx="5.04" cy="6.14" r="0.49" fill="#e2aa98"/><circle cx="3.35" cy="4.93" r="0.48" fill="#f0c4b4"/><circle cx="5.57" cy="4.47" r="0.66" fill="#d89c8a"/><circle cx="4.19" cy="8.31" r="0.59" fill="#e2aa98"/><circle cx="7.15" cy="6.29" r="0.55" fill="#d89c8a"/><circle cx="4.73" cy="7.88" r="0.74" fill="#d89c8a"/><circle cx="5.48" cy="0.66" r="0.65" fill="#e2aa98"/><circle cx="6.81" cy="1.37" r="0.65" fill="#f0c4b4"/><circle cx="8.66" cy="0.70" r="0.67" fill="#d89c8a"/><circle cx="3.06" cy="3.15" r="0.65" fill="#f6d2c4"/><circle cx="0.62" cy="0.84" r="0.56" fill="#f0c4b4"/><circle cx="0.55" cy="6.31" r="0.71" fill="#f6d2c4"/><circle cx="2.56" cy="3.47" r="0.72" fill="#f0c4b4"/><circle cx="8.47" cy="3.20" r="0.69" fill="#f6d2c4"/><circle cx="0.53" cy="6.91" r="0.50" fill="#e2aa98"/></pattern>
<pattern id="gf" width="10" height="10" patternUnits="userSpaceOnUse"><rect width="10" height="10" fill="#3c3c3c"/><circle cx="3.98" cy="9.17" r="0.60" fill="#d0d0d0"/><circle cx="4.49" cy="5.49" r="0.75" fill="#e4e4e4"/><circle cx="8.64" cy="2.78" r="0.57" fill="#b4b4b4"/><circle cx="6.83" cy="3.80" r="0.49" fill="#f0f0f0"/><circle cx="1.76" cy="2.32" r="0.49" fill="#e4e4e4"/><circle cx="8.31" cy="1.82" r="0.51" fill="#d0d0d0"/><circle cx="4.19" cy="3.69" r="0.63" fill="#d0d0d0"/><circle cx="6.90" cy="5.15" r="0.65" fill="#f0f0f0"/><circle cx="4.57" cy="8.71" r="0.78" fill="#e4e4e4"/><circle cx="3.98" cy="3.94" r="0.59" fill="#e4e4e4"/><circle cx="0.62" cy="0.67" r="0.48" fill="#d0d0d0"/><circle cx="1.10" cy="6.01" r="0.44" fill="#d0d0d0"/><circle cx="5.37" cy="9.49" r="0.65" fill="#f0f0f0"/><circle cx="8.74" cy="6.14" r="0.46" fill="#b4b4b4"/><circle cx="9.55" cy="6.02" r="0.59" fill="#f0f0f0"/><circle cx="8.49" cy="9.93" r="0.59" fill="#e4e4e4"/><circle cx="3.12" cy="1.44" r="0.70" fill="#b4b4b4"/><circle cx="4.79" cy="6.92" r="0.61" fill="#d0d0d0"/><circle cx="9.51" cy="5.28" r="0.46" fill="#f0f0f0"/><circle cx="7.58" cy="2.98" r="0.66" fill="#f0f0f0"/><circle cx="6.96" cy="2.61" r="0.55" fill="#d0d0d0"/><circle cx="3.56" cy="2.23" r="0.62" fill="#b4b4b4"/><circle cx="6.36" cy="6.13" r="0.72" fill="#d0d0d0"/><circle cx="8.06" cy="8.18" r="0.70" fill="#d0d0d0"/><circle cx="2.00" cy="4.93" r="0.69" fill="#f0f0f0"/><circle cx="7.90" cy="4.72" r="0.48" fill="#b4b4b4"/><circle cx="4.47" cy="9.37" r="0.80" fill="#b4b4b4"/><circle cx="0.81" cy="1.02" r="0.59" fill="#b4b4b4"/><circle cx="2.04" cy="6.24" r="0.76" fill="#f0f0f0"/><circle cx="4.79" cy="6.53" r="0.72" fill="#f0f0f0"/><circle cx="8.35" cy="1.20" r="0.56" fill="#d0d0d0"/><circle cx="4.78" cy="1.79" r="0.72" fill="#b4b4b4"/><circle cx="0.87" cy="9.46" r="0.69" fill="#e4e4e4"/><circle cx="4.01" cy="9.47" r="0.69" fill="#d0d0d0"/></pattern>
<pattern id="bk" width="12" height="12" patternUnits="userSpaceOnUse"><rect width="12" height="12" fill="#161616"/><path d="M1,1 L5,0.5 L9,2 L12,1 M1,1 L2,5 L6,4.5 L5,0.5 M6,4.5 L10,6 L9,2 M10,6 L11,9 L12,7 M2,5 L0,7 M2,5 L4,8.5 L8,10 L11,9 M4,8.5 L0.5,9 M8,10 L7,12 M3,12 L4,8.5 M0,1 L1,1" fill="none" stroke="#6a6a6a" stroke-width="0.55"/></pattern>
<pattern id="tl" width="8" height="8" patternUnits="userSpaceOnUse"><rect width="8" height="8" fill="#1c5868"/><circle cx="7.94" cy="0.22" r="0.48" fill="#3f8a9a"/><circle cx="3.72" cy="5.25" r="0.48" fill="#3f8a9a"/><circle cx="4.77" cy="3.79" r="0.58" fill="#3f8a9a"/><circle cx="1.25" cy="4.39" r="0.31" fill="#3f8a9a"/><circle cx="6.39" cy="5.81" r="0.33" fill="#3f8a9a"/><circle cx="6.00" cy="1.11" r="0.60" fill="#3f8a9a"/><circle cx="1.56" cy="6.99" r="0.31" fill="#3f8a9a"/><circle cx="1.70" cy="4.01" r="0.53" fill="#3f8a9a"/><circle cx="2.61" cy="4.35" r="0.55" fill="#3f8a9a"/><circle cx="0.49" cy="5.92" r="0.57" fill="#3f8a9a"/><circle cx="5.30" cy="6.52" r="0.46" fill="#3f8a9a"/><circle cx="6.62" cy="7.03" r="0.34" fill="#3f8a9a"/><circle cx="1.21" cy="4.08" r="0.56" fill="#3f8a9a"/><circle cx="6.21" cy="4.87" r="0.53" fill="#3f8a9a"/></pattern>
<radialGradient id="pk" cx="0.35" cy="0.3" r="0.75"><stop offset="0" stop-color="#f8c8d0"/><stop offset="0.5" stop-color="#e98a9a"/><stop offset="1" stop-color="#d0687a"/></radialGradient>
<radialGradient id="og" cx="0.35" cy="0.3" r="0.75"><stop offset="0" stop-color="#f8d090"/><stop offset="0.5" stop-color="#e6a448"/><stop offset="1" stop-color="#c8862a"/></radialGradient>
<radialGradient id="tq" cx="0.35" cy="0.3" r="0.75"><stop offset="0" stop-color="#e0f6f2"/><stop offset="0.5" stop-color="#98d8d0"/><stop offset="1" stop-color="#6cbcb4"/></radialGradient>
<linearGradient id="trp" x1="0" y1="0" x2="0" y2="1"><stop offset="0" stop-color="#eb98a8" stop-opacity="1"/><stop offset="0.6" stop-color="#efaab6" stop-opacity="0.8"/><stop offset="1" stop-color="#f4c4cc" stop-opacity="0.2"/></linearGradient>
<linearGradient id="trt" x1="0" y1="0" x2="0" y2="1"><stop offset="0" stop-color="#a8e0d8" stop-opacity="0.9"/><stop offset="1" stop-color="#a8e0d8" stop-opacity="0.1"/></linearGradient>
</defs>
<path d="M141.2,413 L141.2,411 C141.2,404 136,400 128,400 L58,400 C49,400 42.4,407 42.4,416 L42.4,532 C42.4,541 49,548.6 58,548.6 L128,548.6 C136,548.6 142.4,543 142.4,534" fill="none" stroke="#3ec0e8" stroke-width="3.2"/>
<polygon points="66.80,400.00 73.20,395.70 73.20,404.30" fill="#3ec0e8"/>
<polygon points="112.00,400.00 118.40,395.70 118.40,404.30" fill="#3ec0e8"/>
<polygon points="42.40,452.00 38.10,445.60 46.70,445.60" fill="#3ec0e8"/>
<polygon points="42.40,504.00 38.10,497.60 46.70,497.60" fill="#3ec0e8"/>
<polygon points="72.00,548.60 65.60,552.90 65.60,544.30" fill="#3ec0e8"/>
<polygon points="118.70,548.60 112.30,552.90 112.30,544.30" fill="#3ec0e8"/>
<path d="M201,412 C201,404 207,399.7 215,399.7 L288,399.7 C295,399.7 300.5,405 300.5,412.5 L300.5,536 C300.5,543.5 295,549 288,549 L215,549 C207,549 201,543 201,535" fill="none" stroke="#e4dba4" stroke-width="3.2"/>
<polygon points="230.00,399.70 223.60,404.00 223.60,395.40" fill="#e4dba4"/>
<polygon points="276.40,399.70 270.00,404.00 270.00,395.40" fill="#e4dba4"/>
<polygon points="300.50,452.00 296.20,445.60 304.80,445.60" fill="#e4dba4"/>
<polygon points="300.50,504.00 296.20,497.60 304.80,497.60" fill="#e4dba4"/>
<polygon points="225.00,549.00 231.40,544.70 231.40,553.30" fill="#e4dba4"/>
<polygon points="271.50,549.00 277.90,544.70 277.90,553.30" fill="#e4dba4"/>
<polygon points="84.8,411.9 104.7,404 104.7,412 85,420" fill="#8c9292"/>
<defs><linearGradient id="tpl" x1="0" y1="0" x2="1" y2="0"><stop offset="0" stop-color="#b8c2c2"/><stop offset="1" stop-color="#cdd4d4"/></linearGradient></defs>
<polygon points="69.4,411.4 90.8,403.5 104.7,404 84.8,411.9" fill="url(#tpl)"/>
<polygon points="66.8,412.3 84.8,411.9 87.8,545.2 69.5,545.2" fill="url(#pl)"/>
<polygon points="66.8,412.3 84.8,411.9 84.8,414 66.8,414.3" fill="#d4eef2"/>
<polygon points="87,535.6 95,535.6 88,545.2" fill="#d8e4e4"/>
<clipPath id="cpbk"><polygon points="85.3,418.4 104,410.5 114.6,409.4 99.7,419.4 101.6,535.6 87,535.6"/></clipPath>
<g clip-path="url(#cpbk)"><rect x="84" y="405" width="32" height="135" fill="#0e0e0e"/>
<path d="M112.9 541.9L115.2 540.7M115.9 540.4L115.2 540.7M83.8 404.0L84.9 405.0M84.9 405.0L87.6 405.3M87.6 405.3L88.0 405.8M88.0 405.8L85.8 410.3M82.5 433.9L83.2 434.6M82.1 436.0L83.2 434.6M90.2 406.8L88.0 405.8M90.2 406.8L90.8 408.3M90.8 408.3L88.6 413.1M88.6 413.1L88.5 413.2M85.8 410.3L86.5 411.9M88.5 413.2L86.5 411.9M86.5 411.9L83.2 413.4M83.2 413.4L82.3 413.2M82.5 431.8L83.4 430.9M83.4 430.9L83.2 427.2M82.3 432.6L82.5 431.8M82.5 433.9L82.3 432.6M112.9 541.9L112.8 541.7M115.2 540.7L114.7 537.7M83.9 454.1L83.2 455.1M83.9 454.1L82.4 453.0M83.2 455.1L82.7 455.8M83.7 457.8L85.2 457.7M83.7 457.8L82.7 455.8M85.2 457.7L83.2 455.1M98.5 403.1L93.4 404.3M90.2 406.8L93.3 404.6M93.3 404.6L93.4 404.3M88.3 416.9L84.0 417.4M88.3 416.9L88.1 414.4M88.1 414.4L84.3 415.3M84.0 417.4L84.3 415.3M88.5 413.2L88.1 414.4M83.2 413.4L84.3 415.3M86.0 430.7L87.9 428.7M86.0 430.7L86.4 433.5M88.8 430.5L87.9 428.7M88.8 430.5L88.4 432.7M88.4 432.7L86.4 433.5M115.3 481.2L115.3 482.9M115.9 478.7L112.9 477.7M112.9 477.7L112.8 479.7M112.8 479.7L115.3 481.2M93.0 540.2L95.9 541.0M105.3 541.1L107.7 541.3M83.6 478.7L86.1 473.8M86.1 473.8L85.0 473.2M85.0 473.2L82.4 473.8M89.9 459.3L87.4 458.9M89.9 459.3L88.1 455.8M86.0 457.7L86.4 456.1M86.0 457.7L86.3 458.3M87.4 458.9L86.3 458.3M88.1 455.8L86.4 456.1M89.9 459.3L91.2 459.8M91.2 459.8L90.9 454.2M88.1 455.8L90.9 454.2M86.0 457.7L85.2 457.7M83.9 454.1L85.4 454.0M86.4 456.1L85.4 454.0M83.4 449.1L82.2 449.7M83.4 449.1L85.9 453.0M85.4 454.0L85.9 453.0M90.7 445.9L90.1 446.5M90.7 445.9L90.7 444.6M88.7 441.9L82.1 442.9M88.7 441.9L89.9 442.3M82.1 442.9L83.3 445.2M90.7 444.6L89.9 442.3M90.1 446.5L83.3 445.2M83.4 449.1L83.5 449.0M83.3 445.2L83.5 449.0M95.2 450.7L91.3 446.2M95.2 450.7L96.4 450.3M91.3 446.2L95.9 446.3M96.4 450.3L97.8 447.3M95.9 446.3L97.8 447.3M111.1 472.2L109.4 469.6M115.5 465.8L109.4 469.6M112.7 477.1L111.9 476.0M111.1 472.2L111.8 476.0M111.8 476.0L111.9 476.0M112.9 477.7L112.7 477.1M90.8 408.3L94.0 410.1M89.9 413.3L88.6 413.1M89.9 413.3L93.8 413.2M93.8 413.2L94.6 411.2M94.0 410.1L94.6 411.2M94.0 417.0L98.9 416.7M94.0 417.0L94.4 414.9M94.4 414.9L99.3 414.5M98.9 416.7L99.3 414.5M106.6 414.9L107.1 415.1M106.6 414.9L103.9 417.9M107.1 415.1L108.2 418.8M103.9 417.9L103.8 418.3M103.8 418.3L105.2 420.4M108.2 418.8L105.2 420.4M105.3 421.8L105.2 420.4M105.3 421.8L111.0 422.1M108.2 418.8L110.0 418.8M110.0 418.8L111.0 422.1M112.5 426.3L112.1 423.2M115.3 419.6L112.1 423.2M98.5 403.1L99.0 403.6M114.3 403.1L115.4 403.9M114.3 403.1L107.2 404.5M115.4 403.9L112.1 408.4M99.0 403.6L98.9 405.8M98.9 405.8L107.3 405.8M107.2 404.5L107.3 405.8M115.0 413.7L112.6 416.5M115.0 413.7L110.9 408.9M110.9 408.9L110.8 408.9M110.8 408.9L110.7 415.8M112.6 416.5L111.4 416.5M110.7 415.8L111.4 416.5M116.9 413.8L115.0 413.7M115.3 419.6L112.6 416.5M112.1 408.4L110.9 408.9M108.5 408.1L107.4 406.1M108.5 408.1L110.8 408.9M107.4 406.1L107.3 405.8M110.0 418.8L111.4 416.5M112.1 423.2L111.0 422.1M107.1 415.1L110.7 415.8M83.4 430.9L86.0 430.7M83.2 427.2L85.0 426.2M87.9 428.7L88.1 427.9M88.1 427.9L87.8 427.4M85.0 426.2L87.8 427.4M85.0 421.3L85.1 421.7M85.0 421.3L84.5 420.9M85.1 421.7L84.6 424.3M85.0 426.2L84.6 424.3M87.8 427.4L88.9 424.8M89.1 423.9L85.1 421.7M89.1 423.9L88.9 424.8M83.0 418.4L82.8 418.9M89.4 418.9L85.0 421.3M89.4 418.9L88.3 416.9M84.0 417.4L83.0 418.4M84.5 420.9L82.8 418.9M88.2 436.1L85.9 434.4M88.2 436.1L86.1 438.6M84.6 438.3L86.1 438.6M84.6 438.3L83.9 435.0M83.9 435.0L85.9 434.4M88.7 441.9L86.1 438.6M82.3 440.5L84.6 438.3M83.2 434.6L83.9 435.0M86.4 433.5L85.9 434.4M102.0 441.6L99.4 439.8M102.0 441.6L102.1 441.3M99.4 439.8L99.3 438.4M99.3 438.4L102.0 440.2M102.0 440.2L102.1 441.3M99.4 437.2L102.7 436.0M99.4 437.2L99.2 438.0M99.2 438.0L99.3 438.4M102.0 440.2L102.7 436.0M88.4 432.7L89.8 433.9M88.2 436.1L89.3 436.1M89.8 433.9L89.3 436.1M89.9 442.3L91.4 439.6M91.4 439.6L91.3 437.9M89.3 436.1L91.3 437.9M89.8 433.9L90.5 433.2M91.3 437.9L94.3 435.1M94.3 435.1L90.5 433.2M88.8 430.5L90.9 431.9M90.9 431.9L90.5 433.2M112.3 481.0L112.8 479.7M112.3 481.0L108.1 481.1M111.8 476.0L108.9 477.1M108.9 477.1L107.1 480.2M108.1 481.1L107.1 480.2M115.3 482.9L113.4 484.4M116.6 485.3L114.5 485.7M114.5 485.7L113.4 484.4M112.3 481.0L112.1 483.5M112.1 483.5L113.4 484.4M113.1 537.5L113.7 534.9M113.1 537.5L111.2 539.2M113.7 534.9L109.2 535.3M111.2 539.2L111.1 539.2M111.1 539.2L108.7 536.4M109.2 535.3L108.7 536.4M114.7 537.7L113.1 537.5M113.9 534.5L113.7 534.9M112.8 541.7L111.2 539.2M107.7 541.3L111.1 539.2M105.3 541.1L106.8 536.6M106.8 536.6L108.7 536.4M113.9 534.5L113.1 533.0M109.7 532.0L109.2 535.3M109.7 532.0L111.9 532.1M113.1 533.0L111.9 532.1M113.1 533.0L116.5 530.4M93.0 540.2L92.8 540.1M92.8 540.1L91.8 537.5M87.9 540.8L87.6 538.8M87.6 538.8L91.6 537.5M91.8 537.5L91.6 537.5M87.6 538.8L85.6 537.6M83.1 539.4L85.6 537.6M106.8 536.6L104.5 535.4M104.5 535.4L101.7 538.5M98.6 538.3L100.2 538.1M101.7 538.5L100.2 538.1M96.4 540.2L98.5 538.3M96.4 540.2L92.9 536.5M98.5 538.3L95.6 534.5M93.8 535.3L92.9 536.5M93.8 535.3L95.3 534.5M95.3 534.5L95.6 534.5M95.9 541.0L96.4 540.2M98.6 538.3L98.5 538.3M91.8 537.5L92.9 536.5M83.9 471.7L85.2 467.6M85.2 467.6L83.9 467.1M85.0 473.2L83.9 471.7M87.0 506.0L86.1 501.4M87.0 506.0L88.8 506.9M88.8 506.9L90.1 505.9M87.9 500.9L86.1 501.4M87.9 500.9L89.8 504.3M89.8 504.3L90.1 505.9M90.3 511.4L89.6 511.0M90.3 511.4L92.2 510.3M89.6 511.0L88.8 506.9M92.2 510.3L94.6 505.7M92.4 504.7L94.6 505.7M92.4 504.7L90.1 505.9M90.8 496.3L88.1 495.2M90.8 496.3L90.5 499.3M88.1 495.2L84.5 500.4M84.5 500.4L86.1 501.4M89.6 500.1L90.5 499.3M89.6 500.1L87.9 500.9M89.6 500.1L89.8 504.3M90.5 499.3L92.8 501.9M92.8 501.9L92.4 504.7M82.9 489.4L83.5 489.1M83.5 489.1L84.0 489.3M84.4 494.4L84.0 489.3M82.2 461.8L84.2 461.7M82.2 461.8L82.0 462.6M82.0 462.6L84.5 465.0M84.2 461.7L86.3 462.8M84.5 465.0L85.7 464.4M85.7 464.4L86.3 462.8M86.3 458.3L84.2 461.7M82.0 462.6L82.0 462.6M83.9 467.1L84.5 465.0M87.4 458.9L86.8 462.8M86.8 462.8L86.3 462.8M86.4 467.5L85.7 464.4M86.4 467.5L85.2 467.6M88.7 468.5L93.8 467.6M88.7 468.5L88.4 468.0M88.4 468.0L90.2 463.5M93.8 467.6L93.9 465.6M93.9 465.6L90.9 463.1M90.9 463.1L90.2 463.5M89.3 473.2L88.7 468.5M89.3 473.2L92.3 474.9M94.0 468.1L92.3 474.9M94.0 468.1L93.8 467.6M86.1 473.8L89.3 473.2M86.4 467.5L88.4 468.0M86.8 462.8L90.2 463.5M91.2 459.8L91.8 460.5M91.8 460.5L90.9 463.1M90.1 446.5L89.6 447.6M83.5 449.0L89.1 448.5M89.1 448.5L89.6 447.6M85.9 453.0L89.1 451.4M89.1 448.5L89.1 451.4M95.2 450.7L94.3 452.3M90.7 445.9L91.3 446.2M89.6 447.6L94.3 452.3M90.9 454.2L91.1 453.7M89.1 451.4L91.1 453.7M91.8 460.5L93.7 459.9M91.1 453.7L93.7 453.5M93.7 459.9L93.7 453.5M98.1 464.5L99.3 461.7M98.1 464.5L93.9 465.6M99.3 461.7L95.1 459.8M93.7 459.9L95.1 459.8M94.3 452.3L93.8 453.4M93.8 453.4L93.7 453.5M99.3 456.1L96.4 455.4M99.3 456.1L101.0 452.8M98.9 452.0L100.7 452.3M98.9 452.0L96.1 454.9M96.1 454.9L96.4 455.4M101.0 452.8L100.7 452.3M96.4 450.3L98.9 452.0M97.8 447.3L99.5 446.8M99.5 446.8L101.6 448.4M101.6 448.4L100.7 452.3M93.8 453.4L96.1 454.9M95.1 459.8L96.4 455.4M105.6 454.4L101.0 452.8M105.6 454.4L106.6 451.3M106.6 451.3L103.8 447.9M101.6 448.4L103.8 447.9M95.9 446.3L96.3 444.1M99.5 446.8L99.6 445.7M96.3 444.1L99.6 445.7M103.5 443.4L101.9 442.4M103.5 443.4L105.6 445.1M101.9 442.4L100.1 443.5M105.6 445.1L103.8 447.9M100.1 443.5L99.6 445.7M107.6 463.4L108.9 466.0M107.6 463.4L110.0 459.3M108.9 466.0L114.9 460.5M110.0 459.3L114.9 459.9M114.9 460.5L115.0 459.9M114.9 459.9L115.0 459.9M115.5 465.8L114.9 460.5M109.4 469.6L109.3 469.5M109.3 469.5L108.9 466.0M106.9 463.4L103.7 465.5M106.9 463.4L102.7 459.8M103.7 465.5L100.3 461.2M102.7 459.8L100.9 460.4M100.9 460.4L100.3 461.2M107.8 469.7L109.3 469.5M107.8 469.7L104.3 467.6M107.6 463.4L106.9 463.4M104.3 467.6L103.8 466.6M103.8 466.6L103.7 465.5M106.4 456.4L110.0 459.3M106.4 456.4L106.4 456.4M106.4 456.4L102.7 459.8M106.4 456.4L105.6 454.4M99.3 456.1L100.9 460.4M99.3 461.7L100.3 461.2M104.4 476.1L108.8 477.0M104.4 476.1L103.3 473.5M108.8 477.0L105.2 472.2M103.3 473.5L105.2 472.2M108.9 477.1L108.8 477.0M103.0 480.4L103.5 481.2M103.0 480.4L104.4 476.1M107.1 480.2L103.5 481.2M107.8 469.7L105.2 472.2M106.4 456.4L110.7 453.8M106.6 451.3L107.6 450.8M110.7 453.8L107.6 450.8M105.6 445.1L105.8 445.1M105.8 445.1L106.8 445.8M106.8 445.8L108.4 450.2M107.6 450.8L108.4 450.2M114.5 458.5L114.8 453.1M114.5 458.5L111.6 453.4M114.8 453.1L111.6 453.2M111.6 453.4L111.6 453.2M114.9 459.9L114.5 458.5M110.7 453.8L111.6 453.4M98.7 406.4L94.1 405.3M98.7 406.4L98.7 406.8M98.7 406.8L95.3 408.1M94.1 405.3L95.3 408.1M93.3 404.6L94.1 405.3M98.9 405.8L98.7 406.4M94.0 410.1L95.3 408.1M106.6 414.9L106.4 413.9M108.5 408.1L107.1 410.2M106.4 413.9L107.1 410.2M107.4 406.1L101.0 408.7M98.7 406.8L99.2 408.0M99.2 408.0L101.0 408.7M94.0 417.0L93.4 418.3M98.9 416.7L99.0 417.5M99.0 417.5L97.3 420.8M97.3 420.8L96.2 420.8M96.2 420.8L93.4 418.3M89.9 413.3L93.3 418.3M89.4 418.9L90.5 419.4M90.5 419.4L93.3 418.3M93.8 413.2L94.4 414.9M93.3 418.3L93.4 418.3M112.6 508.2L108.5 505.5M112.6 508.2L114.8 507.1M114.8 507.1L114.7 506.0M114.7 506.0L108.2 504.5M108.2 504.5L108.5 505.5M112.6 508.2L111.4 510.5M108.5 505.5L108.2 507.7M108.2 507.7L108.8 510.6M108.8 510.6L109.4 511.0M111.4 510.5L109.4 511.0M114.5 485.7L113.7 489.5M116.1 491.5L113.7 489.5M112.2 500.7L113.9 496.7M112.2 500.7L115.0 503.5M116.4 503.1L115.0 503.5M113.9 496.7L115.8 495.7M114.7 506.0L115.0 503.5M116.1 491.5L115.8 495.7M105.4 512.8L101.1 514.1M105.4 512.8L106.4 514.9M106.4 514.9L104.8 517.1M101.1 514.1L104.8 517.1M111.4 510.5L114.4 513.3M115.4 512.9L114.4 513.3M101.5 506.5L102.6 507.4M101.5 506.5L97.0 506.0M102.8 508.6L99.0 513.4M102.8 508.6L102.6 507.4M96.6 508.8L96.9 506.1M96.6 508.8L98.9 513.3M98.9 513.3L99.0 513.4M97.0 506.0L96.9 506.1M101.6 503.5L101.5 506.5M101.6 503.5L105.8 503.6M105.8 503.6L106.7 504.4M106.7 504.4L102.6 507.4M92.2 510.3L96.6 508.8M94.6 505.7L96.9 506.1M106.0 526.3L104.9 525.9M106.0 526.3L107.8 524.9M104.9 525.9L104.1 523.0M107.8 524.9L108.4 520.5M104.1 523.0L104.5 519.2M108.4 520.5L104.9 519.0M104.9 519.0L104.5 519.2M101.1 520.0L100.8 521.3M101.1 520.0L104.5 519.2M100.8 521.3L104.1 523.0M99.2 513.6L101.1 514.1M99.2 513.6L99.0 517.8M104.8 517.1L104.9 519.0M99.0 517.8L101.1 520.0M91.6 537.5L88.6 533.3M93.8 535.3L89.2 531.8M88.6 533.3L89.2 531.8M95.3 534.5L93.0 531.5M93.0 531.5L89.2 531.7M89.2 531.8L89.2 531.7M100.0 523.3L100.8 521.3M100.0 523.3L101.4 525.8M104.9 525.9L101.6 526.0M101.6 526.0L101.4 525.8M95.6 534.5L96.7 533.2M92.9 528.6L93.0 531.5M92.9 528.6L96.2 528.5M96.2 528.5L97.3 529.4M96.7 533.2L97.3 529.4M100.2 538.1L100.8 533.7M96.7 533.2L100.8 533.7M101.6 526.0L99.9 528.6M101.4 525.8L95.9 525.7M95.9 525.7L96.2 528.5M99.9 528.6L97.3 529.4M104.0 533.9L102.9 533.0M104.0 533.9L108.2 531.1M108.2 531.1L107.3 529.4M102.7 531.8L102.9 533.0M102.7 531.8L106.3 527.9M106.3 527.9L107.3 529.4M104.5 535.4L104.0 533.9M100.8 533.7L102.9 533.0M109.7 532.0L109.7 531.9M109.7 531.9L108.2 531.1M99.9 528.6L102.7 531.8M106.0 526.3L106.3 527.9M96.6 485.1L96.4 485.4M96.6 485.1L95.4 484.0M95.4 484.0L90.9 483.8M90.9 483.8L91.8 486.7M96.4 485.4L91.8 486.7M82.1 486.3L82.7 485.1M82.7 485.1L82.5 483.6M83.5 489.1L82.1 486.3M83.6 478.7L85.1 480.7M85.1 480.7L82.5 483.6M83.8 509.3L83.5 508.3M85.6 506.2L83.0 504.7M85.6 506.2L83.5 508.3M87.8 494.9L87.6 494.8M87.8 494.9L88.6 492.0M87.6 494.8L85.5 488.9M88.6 492.0L87.2 488.1M85.5 488.9L86.9 488.0M86.9 488.0L87.2 488.1M84.4 494.4L87.6 494.8M84.0 489.3L85.5 488.9M86.6 485.2L82.7 485.1M86.6 485.2L86.9 488.0M97.3 441.9L96.3 442.6M97.3 441.9L97.3 441.7M97.3 441.7L96.6 439.6M96.3 442.6L96.1 442.6M96.6 439.6L96.3 439.4M94.7 441.4L96.1 442.6M94.7 441.4L95.8 439.5M95.8 439.5L96.3 439.4M96.3 444.1L96.3 442.6M100.1 443.5L97.3 441.9M101.9 442.4L102.0 441.6M99.4 439.8L97.3 441.7M99.2 438.0L96.6 439.6M90.7 444.6L96.1 442.6M92.4 439.7L91.4 439.6M92.4 439.7L94.7 441.4M92.4 439.7L95.8 439.5M101.1 470.0L100.0 467.1M101.1 470.0L100.2 473.0M100.2 473.0L99.3 473.3M97.4 468.4L98.7 473.3M97.4 468.4L98.5 466.0M99.3 473.3L98.7 473.3M98.5 466.0L100.0 467.1M104.3 467.6L101.1 470.0M103.8 466.6L100.0 467.1M103.3 473.5L100.2 473.0M95.5 468.5L96.4 474.1M95.5 468.5L97.4 468.4M96.4 474.1L98.7 473.3M98.1 464.5L98.5 466.0M94.0 468.1L95.5 468.5M92.6 475.2L93.2 475.6M92.6 475.2L85.5 480.9M93.2 475.6L93.5 476.9M93.5 476.9L92.6 479.7M92.6 479.7L90.4 482.7M90.4 482.7L87.3 482.9M85.5 480.9L87.3 482.9M92.3 474.9L92.6 475.2M96.4 474.1L93.2 475.6M85.1 480.7L85.5 480.9M95.4 484.0L92.6 479.7M90.9 483.8L90.4 482.7M86.6 485.2L87.3 482.9M91.8 486.7L91.2 488.0M91.2 488.0L87.2 488.1M97.4 480.3L101.6 479.6M97.4 480.3L95.5 478.4M95.5 478.4L100.7 478.1M101.6 479.6L100.7 478.1M98.0 484.6L99.1 484.9M98.0 484.6L97.4 480.3M99.1 484.9L103.5 481.3M103.0 480.4L101.6 479.6M103.5 481.3L103.5 481.2M98.0 484.6L96.6 485.1M93.5 476.9L95.5 478.4M99.3 473.3L100.7 478.1M108.4 450.2L108.5 450.2M111.6 453.2L111.6 452.4M108.5 450.2L108.8 450.2M111.6 452.4L108.8 450.2M111.6 452.4L114.3 448.9M94.6 411.2L94.9 411.2M99.2 408.0L98.2 410.0M94.9 411.2L98.2 410.0M99.3 414.5L99.5 414.1M94.9 411.2L99.5 414.1M101.0 413.8L100.0 413.8M101.0 413.8L101.4 413.6M101.4 413.6L102.9 411.3M100.0 413.8L99.9 413.6M99.9 413.6L101.1 409.0M102.9 411.3L101.1 409.0M103.9 417.9L101.0 413.8M103.8 418.3L102.3 418.6M99.0 417.5L102.3 418.6M99.5 414.1L100.0 413.8M106.4 413.9L101.4 413.6M107.1 410.2L102.9 411.3M98.2 410.0L99.9 413.6M101.0 408.7L101.1 409.0M102.3 418.6L99.4 422.0M97.3 420.8L98.2 421.5M99.4 422.0L98.2 421.5M105.3 421.8L104.9 422.8M104.9 422.8L102.7 424.2M102.7 424.2L100.6 423.4M99.4 422.0L100.6 423.4M89.1 423.9L90.5 422.1M90.5 419.4L90.5 422.0M90.5 422.1L90.5 422.0M103.0 428.7L102.7 428.6M103.0 428.7L103.9 435.4M103.9 435.4L103.2 435.6M103.2 435.6L99.4 432.7M102.7 428.6L99.6 429.5M99.6 429.5L99.4 432.7M99.4 437.2L96.3 434.8M102.7 436.0L103.2 435.6M99.4 432.7L96.3 434.8M96.3 439.4L95.5 434.8M96.3 434.8L95.5 434.8M94.3 435.1L95.1 434.7M90.9 431.9L94.0 430.7M94.0 430.7L95.1 434.7M95.5 434.8L95.1 434.7M102.1 441.3L105.9 439.5M103.9 435.4L105.1 435.6M105.1 435.6L105.9 439.5M103.5 443.4L106.3 439.8M106.3 439.8L105.9 439.5M105.8 445.1L108.5 441.6M106.3 439.8L108.5 441.6M112.5 426.3L112.3 426.6M112.3 426.6L115.9 432.3M104.9 422.8L109.5 427.8M112.3 426.6L109.5 427.8M103.0 428.7L108.4 429.1M105.1 435.6L108.4 434.2M108.4 434.2L108.4 429.1M102.7 424.2L102.7 428.6M109.5 427.8L108.4 429.1M105.6 511.9L103.2 508.9M105.6 511.9L108.7 510.7M108.7 510.7L105.2 508.8M103.2 508.9L105.2 508.8M99.2 513.6L99.0 513.4M105.4 512.8L105.6 511.9M102.8 508.6L103.2 508.9M108.8 510.6L108.7 510.7M109.4 511.0L109.3 514.9M109.3 514.9L106.4 514.9M108.2 507.7L105.2 508.8M108.2 504.5L108.2 504.5M108.2 504.5L106.7 504.4M112.2 500.7L111.2 501.0M108.2 504.5L109.9 501.7M111.2 501.0L109.9 501.7M92.1 495.8L90.8 496.3M92.1 495.8L95.5 496.0M92.8 501.9L95.6 500.9M95.5 496.0L95.6 500.9M97.0 506.0L97.6 502.2M95.6 500.9L97.6 502.2M109.9 515.5L113.2 515.1M109.9 515.5L109.3 520.0M113.2 515.1L114.8 519.4M109.3 520.0L112.6 520.5M112.6 520.5L113.3 520.1M113.3 520.1L114.8 519.4M109.3 514.9L109.9 515.5M114.4 513.3L113.2 515.1M108.4 520.5L109.3 520.0M83.0 534.2L85.6 537.5M83.0 534.2L85.4 532.2M85.4 532.2L87.3 534.4M85.6 537.5L87.3 534.4M85.6 537.6L85.6 537.5M85.7 531.2L85.4 532.2M88.6 533.3L87.3 534.4M83.8 525.5L86.1 525.3M83.8 525.5L82.7 521.1M86.1 525.3L88.4 521.6M82.7 521.1L86.1 520.1M86.1 520.1L88.3 521.2M88.3 521.2L88.4 521.6M84.9 516.5L83.4 516.2M84.9 516.5L86.1 520.1M85.7 531.2L87.6 529.8M89.2 531.7L88.9 530.6M88.9 530.6L87.6 529.8M86.1 525.3L87.3 527.1M87.3 527.1L87.5 529.5M87.6 529.8L87.5 529.5M100.0 523.3L95.8 523.2M99.0 517.8L96.1 519.4M96.1 519.4L95.8 523.2M95.9 525.7L95.5 523.4M95.8 523.2L95.5 523.4M86.3 515.3L84.9 516.5M86.3 515.3L89.7 517.7M88.3 521.2L88.9 520.6M89.7 517.7L88.9 520.6M91.7 524.5L88.4 521.6M91.7 524.5L94.9 523.4M94.9 523.4L92.2 520.1M88.9 520.6L92.2 520.1M88.1 511.7L87.3 512.6M88.1 511.7L84.5 510.2M87.3 512.6L82.3 512.8M84.5 510.2L82.3 512.8M89.6 511.0L88.1 511.7M85.6 506.2L87.0 506.0M83.8 509.3L84.5 510.2M86.3 515.3L87.3 512.6M116.5 530.4L116.4 530.0M113.3 530.2L114.8 529.2M113.3 530.2L111.2 528.8M114.8 529.2L113.0 525.9M111.3 528.0L111.2 528.8M111.3 528.0L112.0 526.1M112.0 526.1L113.0 525.9M111.9 532.1L113.3 530.2M116.4 530.0L114.8 529.2M109.7 531.9L111.2 528.8M107.3 529.4L111.3 528.0M107.8 524.9L112.0 526.1M113.0 525.8L113.0 525.9M113.0 525.8L112.6 520.5M92.1 494.8L91.8 490.0M92.1 494.8L95.3 490.1M95.3 490.1L92.0 489.5M91.8 490.0L92.0 489.5M92.1 495.8L92.1 494.8M88.1 495.2L87.8 494.9M88.6 492.0L91.8 490.0M96.7 490.8L98.5 494.7M96.7 490.8L95.9 490.1M95.9 490.1L95.3 490.1M95.5 496.0L98.5 494.7M95.9 490.1L96.4 485.4M91.2 488.0L92.0 489.5M84.5 500.4L84.2 500.4M83.0 504.7L82.6 504.1M82.6 504.1L84.2 500.4M83.1 499.7L84.2 500.4M113.0 447.2L109.8 446.4M113.0 447.2L114.1 448.8M114.1 448.8L111.9 448.8M111.9 448.8L109.7 446.7M109.7 446.7L109.6 446.5M109.6 446.5L109.8 446.4M111.4 444.1L109.8 446.4M111.4 444.1L113.0 447.2M108.8 450.2L111.9 448.8M114.3 448.9L114.1 448.8M108.5 450.2L109.7 446.7M106.8 445.8L109.6 446.5M111.7 442.0L109.8 441.4M111.7 442.0L111.4 444.1M108.5 441.6L109.8 441.4M100.6 423.4L97.8 426.4M99.6 429.5L99.0 429.2M97.8 426.4L99.0 429.2M94.0 430.7L94.1 430.4M99.0 429.2L94.1 430.4M88.1 427.9L90.7 428.0M90.7 428.0L93.9 430.0M93.9 430.0L94.1 430.4M117.0 440.2L116.4 440.0M116.6 437.3L116.4 440.0M116.4 440.0L113.6 441.5M113.6 441.5L113.3 441.6M111.7 442.0L113.1 441.6M113.3 441.6L113.1 441.6M109.3 434.9L109.1 434.6M109.3 434.9L112.7 437.3M109.1 434.6L115.6 432.7M112.7 437.3L115.6 435.5M115.6 432.7L115.6 435.5M109.8 441.4L109.3 434.9M108.4 434.2L109.1 434.6M113.1 441.6L112.7 437.3M115.9 432.3L115.6 432.7M116.6 437.3L115.6 435.5M99.1 484.9L100.4 487.0M96.7 490.8L100.4 487.4M100.4 487.0L100.4 487.4M103.5 481.3L103.5 481.4M103.5 481.4L103.5 486.9M100.4 487.0L103.5 486.9M98.5 494.7L100.4 495.0M100.4 487.4L102.6 493.8M102.6 493.8L100.4 495.0M92.2 528.3L91.5 528.7M92.2 528.3L91.6 525.1M91.5 528.7L88.8 526.7M91.6 525.1L88.8 526.7M92.9 528.6L92.2 528.3M88.9 530.6L91.5 528.7M91.7 524.5L91.6 525.1M95.5 523.4L94.9 523.4M87.3 527.1L88.8 526.7M91.7 515.4L93.1 519.3M91.7 515.4L92.3 514.1M93.1 514.3L95.6 519.1M93.1 514.3L92.3 514.1M95.6 519.1L93.1 519.3M89.7 517.7L91.7 515.4M92.2 520.1L93.1 519.3M90.3 511.4L92.3 514.1M98.9 513.3L93.1 514.3M96.1 519.4L95.6 519.1M116.7 527.0L113.5 525.6M115.3 524.6L113.5 525.6M115.3 524.6L116.5 524.0M113.0 525.8L113.5 525.6M113.3 520.1L115.3 524.6M90.7 428.0L92.6 425.4M93.9 430.0L94.5 427.6M94.5 427.6L92.6 425.4M88.9 424.8L92.6 425.3M90.5 422.1L92.8 424.8M92.8 424.8L92.6 425.3M92.6 425.3L92.6 425.4M96.8 425.8L96.8 425.9M96.8 425.8L95.5 422.1M96.8 425.9L95.9 426.1M95.9 426.1L94.0 424.3M94.0 424.3L94.7 422.8M95.5 422.1L94.7 422.8M98.2 421.5L96.8 425.8M97.8 426.4L96.8 425.9M96.2 420.8L95.5 422.1M94.5 427.6L95.9 426.1M92.8 424.8L94.0 424.3M90.5 422.0L94.7 422.8M112.1 483.5L109.7 484.8M113.7 489.5L112.3 489.5M112.3 489.5L110.7 488.6M110.7 488.6L109.7 484.8M108.1 481.1L109.0 484.6M103.5 481.4L107.0 485.2M109.0 484.6L107.0 485.2M109.0 484.6L109.7 484.8M113.9 496.7L113.8 496.6M112.3 489.5L110.4 492.2M113.8 496.6L110.4 492.2M110.7 488.6L108.4 489.2M108.4 489.2L107.0 493.3M110.4 492.2L107.0 493.3M103.9 493.9L102.9 493.8M103.9 493.9L106.3 487.5M102.9 493.8L103.9 487.1M103.9 487.1L106.1 487.0M106.3 487.5L106.1 487.0M103.5 486.9L103.9 487.1M102.6 493.8L102.9 493.8M107.0 485.2L106.1 487.0M108.4 489.2L106.3 487.5M107.1 499.3L108.7 497.1M107.1 499.3L106.2 498.9M106.2 498.9L104.3 494.0M108.7 497.1L109.0 495.5M109.0 495.5L106.6 493.6M104.3 494.0L106.6 493.6M111.2 501.0L108.7 497.1M109.9 501.7L107.1 499.3M105.8 503.6L104.1 501.1M104.1 501.1L105.9 499.3M105.9 499.3L106.2 498.9M113.8 496.6L109.0 495.5M107.0 493.3L106.6 493.6M103.9 493.9L104.3 494.0M97.6 502.2L98.1 502.0M100.4 495.0L100.6 497.1M100.6 497.1L98.1 502.0M101.5 498.3L103.6 501.0M101.5 498.3L100.7 497.3M100.7 497.3L101.1 502.6M103.6 501.0L101.4 502.8M101.4 502.8L101.1 502.6M104.1 501.1L103.6 501.0M105.9 499.3L101.5 498.3M100.6 497.1L100.7 497.3M98.1 502.0L101.1 502.6M101.6 503.5L101.4 502.8" fill="none" stroke="#626262" stroke-width="0.6"/></g>
<polygon points="85.3,418.4 104,410.5 114.6,409.4 99.7,419.4" fill="#4a4a4a" opacity="0.55"/>
<filter id="fcu" filterUnits="userSpaceOnUse" x="95" y="400" width="35" height="145" color-interpolation-filters="sRGB"><feTurbulence type="fractalNoise" baseFrequency="1.4" numOctaves="3" seed="4"/><feColorMatrix type="matrix" values="1 0 0 0 0  1 0 0 0 0  1 0 0 0 0  0 0 0 0 1"/><feComponentTransfer><feFuncR type="linear" slope="7" intercept="-3.1"/><feFuncG type="linear" slope="7" intercept="-3.1"/><feFuncB type="linear" slope="7" intercept="-3.1"/></feComponentTransfer><feColorMatrix type="matrix" values="0.56 0 0 0 0.3  0 0.52 0 0 0.19  0 0 0.5 0 0.17  0 0 0 0 1"/></filter>
<clipPath id="cpcu"><polygon points="99.7,419.4 114.6,409.4 122.6,409.4 110.7,419.4 112.7,538.8 101.6,538.8"/></clipPath>
<g clip-path="url(#cpcu)"><rect x="95" y="400" width="35" height="145" fill="#000" filter="url(#fcu)"/></g>
<polygon points="99.7,419.4 114.6,409.4 122.6,409.4 110.7,419.4" fill="#7a5a50" opacity="0.35"/>
<filter id="ftl" filterUnits="userSpaceOnUse" x="105" y="400" width="30" height="145" color-interpolation-filters="sRGB"><feTurbulence type="fractalNoise" baseFrequency="0.9" numOctaves="1" seed="8"/><feColorMatrix type="matrix" values="1 0 0 0 0  1 0 0 0 0  1 0 0 0 0  0 0 0 0 1"/><feComponentTransfer><feFuncR type="discrete" tableValues="0 0 0 1 1"/><feFuncG type="discrete" tableValues="0 0 0 1 1"/><feFuncB type="discrete" tableValues="0 0 0 1 1"/></feComponentTransfer><feColorMatrix type="matrix" values="0.12 0 0 0 0.06  0 0.2 0 0 0.27  0 0 0.22 0 0.33  0 0 0 0 1"/></filter>
<clipPath id="cptl"><polygon points="110.7,419.4 122.6,409.4 125.6,412.9 128,536 112.7,538.8"/></clipPath>
<g clip-path="url(#cptl)"><rect x="105" y="400" width="30" height="145" fill="#000" filter="url(#ftl)"/></g>
<defs><linearGradient id="tlg" x1="0" y1="0" x2="1" y2="0"><stop offset="0" stop-color="#3cb9e6" stop-opacity="0"/><stop offset="0.55" stop-color="#3cb9e6" stop-opacity="0.1"/><stop offset="1" stop-color="#3cb9e6" stop-opacity="0.85"/></linearGradient></defs>
<polygon points="112,419 122.6,410 125.6,413 128,536 113,538" fill="url(#tlg)"/>
<path d="M115,418 l6,-7 l-1,5 l6,-5 l-3,6 l6,-2 l-6,5 z" fill="#143e4c"/>
<polygon points="122,413.4 166.4,413.4 166.4,536 124,536" fill="url(#bw)"/>
<defs><linearGradient id="fzb" x1="0" y1="0" x2="0" y2="1"><stop offset="0" stop-color="#b4e4f6" stop-opacity="0.9"/><stop offset="1" stop-color="#3cb9e6" stop-opacity="0"/></linearGradient><linearGradient id="fzy" x1="0" y1="0" x2="0" y2="1"><stop offset="0" stop-color="#f6f2dc" stop-opacity="0.95"/><stop offset="1" stop-color="#e7dfa6" stop-opacity="0"/></linearGradient></defs>
<path d="M124,418.2 L124,413.2 L126.9,411.3 L130.9,411.3 L133.6,412.6 L137.4,412.2 L141.8,413.1 L144.5,411.5 L147.1,411.2 L150.7,411.1 L155.5,411.2 L158.8,413.3 L162.8,411.5 L166.0,412.2 L166.4,412.2 L166.4,418.2 Z" fill="url(#fzb)"/>
<polygon points="175.6,413.5 220,413.5 220,536 175.6,536" fill="url(#yw)"/>
<path d="M175.6,418.2 L175.6,413.2 L178.7,412.3 L183.4,413.2 L188.2,413.1 L191.2,412.1 L194.8,411.9 L198.1,412.6 L201.6,411.5 L204.9,411.3 L209.3,413.3 L213.4,411.9 L216.6,411.3 L220.0,412.8 L220,418.2 Z" fill="url(#fzy)"/>
<polygon points="166.4,413.4 169,413.4 169,536 166.4,536" fill="url(#bw)"/>
<polygon points="173,413.5 175.6,413.5 175.6,536 173,536" fill="url(#yw)"/>
<polygon points="167.7,419.8 168.7,422.1 169.3,425.5 168.1,428.4 168.1,431.1 168.2,434.5 169.2,437.1 167.9,440.9 168.0,443.1 168.9,445.5 168.7,449.2 168.5,452.0 168.1,455.0 167.8,458.6 167.5,461.1 168.6,463.6 167.7,466.2 168.3,470.2 167.6,473.4 169.2,477.3 169.2,479.6 167.9,482.7 168.0,486.0 167.6,490.0 169.3,493.0 168.3,495.5 168.7,498.8 169.2,502.6 168.4,505.0 173.6,505.0 173.3,502.6 173.7,498.8 173.9,495.5 173.6,493.0 172.7,490.0 174.1,486.0 173.5,482.7 173.8,479.6 173.2,477.3 174.0,473.4 174.3,470.2 172.7,466.2 173.1,463.6 172.9,461.1 174.3,458.6 173.2,455.0 173.6,452.0 174.4,449.2 174.2,445.5 174.3,443.1 174.3,440.9 172.9,437.1 173.6,434.5 173.5,431.1 172.9,428.4 173.4,425.5 173.1,422.1 174.3,419.8" fill="#f6f6f6"/>
<polyline points="167.7,419.8 168.7,422.1 169.3,425.5 168.1,428.4 168.1,431.1 168.2,434.5 169.2,437.1 167.9,440.9 168.0,443.1 168.9,445.5 168.7,449.2 168.5,452.0 168.1,455.0 167.8,458.6 167.5,461.1 168.6,463.6 167.7,466.2 168.3,470.2 167.6,473.4 169.2,477.3 169.2,479.6 167.9,482.7 168.0,486.0 167.6,490.0 169.3,493.0 168.3,495.5 168.7,498.8 169.2,502.6 168.4,505.0" fill="none" stroke="#5f8696" stroke-width="0.9" opacity="0.8"/>
<polyline points="174.3,419.8 173.1,422.1 173.4,425.5 172.9,428.4 173.5,431.1 173.6,434.5 172.9,437.1 174.3,440.9 174.3,443.1 174.2,445.5 174.4,449.2 173.6,452.0 173.2,455.0 174.3,458.6 172.9,461.1 173.1,463.6 172.7,466.2 174.3,470.2 174.0,473.4 173.2,477.3 173.8,479.6 173.5,482.7 174.1,486.0 172.7,490.0 173.6,493.0 173.9,495.5 173.7,498.8 173.3,502.6 173.6,505.0" fill="none" stroke="#9a9678" stroke-width="0.9" opacity="0.8"/>
<defs><linearGradient id="mbg" x1="0" y1="0" x2="0" y2="1"><stop offset="0" stop-color="#e6e6e6"/><stop offset="1" stop-color="#efefef"/></linearGradient></defs>
<polygon points="166.1,503.6 176,503.6 176,535.6 166.1,535.6" fill="url(#mbg)"/>
<rect x="166.1" y="410" width="9.9" height="9.8" fill="#c6c6c6"/>
<filter id="fgf" filterUnits="userSpaceOnUse" x="215" y="405" width="45" height="135" color-interpolation-filters="sRGB"><feTurbulence type="fractalNoise" baseFrequency="1.3" numOctaves="1" seed="9"/><feColorMatrix type="matrix" values="1 0 0 0 0  1 0 0 0 0  1 0 0 0 0  0 0 0 0 1"/><feComponentTransfer><feFuncR type="linear" slope="2.6" intercept="-1.0"/><feFuncG type="linear" slope="2.6" intercept="-1.0"/><feFuncB type="linear" slope="2.6" intercept="-1.0"/></feComponentTransfer><feColorMatrix type="matrix" values="0.72 0 0 0 0.2  0 0.72 0 0 0.2  0 0 0.72 0 0.2  0 0 0 0 1"/></filter>
<clipPath id="cpgf"><polygon points="218.8,410.9 237.3,410.4 256.5,420.6 254.2,536.7 226,536.7 221,528 219,500"/></clipPath>
<g clip-path="url(#cpgf)"><rect x="215" y="405" width="45" height="135" fill="#000" filter="url(#fgf)"/></g>
<defs><linearGradient id="olv" x1="0" y1="0" x2="1" y2="0"><stop offset="0" stop-color="#8a8a5a" stop-opacity="0.85"/><stop offset="0.7" stop-color="#8a8a5a" stop-opacity="0.6"/><stop offset="1" stop-color="#8a8a5a" stop-opacity="0"/></linearGradient></defs>
<polygon points="218.8,410.9 233,410.9 232,536.7 226,536.7 221,528 219,500" fill="url(#olv)"/>
<defs><linearGradient id="sdf" x1="0" y1="0" x2="1" y2="0"><stop offset="0" stop-color="#d2e2e4"/><stop offset="1" stop-color="#b4cccf"/></linearGradient><linearGradient id="tpf" x1="0" y1="0" x2="1" y2="0"><stop offset="0" stop-color="#bcc8c8"/><stop offset="1" stop-color="#9aa8a8"/></linearGradient></defs>
<polygon points="237.3,403.5 257,413 257,421 237.3,410.6" fill="url(#sdf)"/>
<polygon points="237.3,403.5 251.2,403.5 273.8,412.2 257,413" fill="url(#tpf)"/>
<polygon points="257,412.6 274.8,412.4 270,545.7 252.7,545.7" fill="url(#plr)"/>
<polygon points="257,412.6 274.8,412.4 274.7,415 257,415" fill="#f4fbfc"/>
<polygon points="248,536.7 254.2,536.7 253,545.7" fill="#cfe2e4"/>
<path d="M126,502.5 L131.8,504.1 L139.7,500.9 L148.7,504.6 L157.0,500.3 L164.5,504.1 L166.0,500.5" fill="none" stroke="#1f3f55" stroke-width="0.4" opacity="0.6"/>
<path d="M126,507.7 L132.5,507.8 L141.4,508.2 L149.2,505.7 L154.9,506.7 L159.9,507.1 L166.0,509.9" fill="none" stroke="#1f3f55" stroke-width="0.4" opacity="0.6"/>
<path d="M126,511.4 L131.1,513.1 L137.0,510.1 L143.4,509.6 L149.5,512.1 L155.5,512.7 L160.8,512.8 L166.0,511.8" fill="none" stroke="#1f3f55" stroke-width="0.4" opacity="0.6"/>
<path d="M126,516.0 L132.2,516.6 L137.5,518.0 L145.9,514.5 L154.5,517.2 L161.9,517.2 L166.0,516.0" fill="none" stroke="#1f3f55" stroke-width="0.4" opacity="0.6"/>
<path d="M126,520.2 L133.5,518.6 L141.8,521.1 L148.8,519.9 L156.6,520.2 L165.3,521.3 L166.0,521.5" fill="none" stroke="#1f3f55" stroke-width="0.4" opacity="0.6"/>
<path d="M126,524.0 L133.7,525.3 L141.6,526.0 L149.2,522.2 L154.3,524.6 L163.2,523.5 L166.0,522.1" fill="none" stroke="#1f3f55" stroke-width="0.4" opacity="0.6"/>
<path d="M126,528.4 L133.1,527.3 L139.2,528.2 L144.5,530.3 L153.1,526.6 L160.2,529.5 L166.0,529.8" fill="none" stroke="#1f3f55" stroke-width="0.4" opacity="0.6"/>
<path d="M176,503.7 L181.9,504.8 L187.9,504.4 L194.7,505.2 L200.0,505.5 L206.2,501.7 L213.7,502.4 L220.0,503.0" fill="none" stroke="#4a4630" stroke-width="0.4" opacity="0.6"/>
<path d="M176,507.7 L183.8,508.2 L189.3,507.6 L196.2,509.8 L201.6,506.5 L208.6,508.6 L214.7,507.6 L220.0,509.9" fill="none" stroke="#4a4630" stroke-width="0.4" opacity="0.6"/>
<path d="M176,511.9 L182.2,510.1 L189.1,511.0 L194.4,511.9 L203.4,514.1 L210.0,513.7 L218.7,510.0 L220.0,513.0" fill="none" stroke="#4a4630" stroke-width="0.4" opacity="0.6"/>
<path d="M176,515.7 L182.4,516.2 L190.0,514.8 L195.4,515.1 L202.4,517.4 L209.0,514.2 L217.8,516.5 L220.0,516.7" fill="none" stroke="#4a4630" stroke-width="0.4" opacity="0.6"/>
<path d="M176,520.4 L182.5,518.8 L188.8,519.7 L195.2,520.0 L203.9,519.1 L209.0,521.5 L215.0,518.5 L220.0,522.1" fill="none" stroke="#4a4630" stroke-width="0.4" opacity="0.6"/>
<path d="M176,524.2 L184.7,525.3 L193.1,523.2 L198.3,524.9 L205.9,522.6 L214.7,523.9 L220.0,525.4" fill="none" stroke="#4a4630" stroke-width="0.4" opacity="0.6"/>
<path d="M176,530.0 L182.7,527.9 L190.8,529.5 L199.3,530.2 L205.1,528.1 L213.8,529.6 L220.0,528.4" fill="none" stroke="#4a4630" stroke-width="0.4" opacity="0.6"/>
<path d="M111,490 C112,516 134,536 176,543 L174,531 C146,524 132,508 133,488 Z" fill="url(#trp)" opacity="1"/>
<path d="M120,488 C122,510 136,526 160,537" fill="none" stroke="#e2b060" stroke-width="4" opacity="0.5"/>
<path d="M119,430 C108,444 104,460 110,474 L125,472 C121,458 126,446 138,438 Z" fill="url(#trt)"/>
<path d="M128,434 C119,445 116,456 117,470" fill="none" stroke="#e0a050" stroke-width="3.5" opacity="0.6"/>
<path d="M214,440 C222,448 226,460 224,472 L230,470 C230,458 228,446 222,436 Z" fill="#f0a8b4" opacity="0.55"/>
<path d="M212,486 C208,494 206,500 205,506 L214,504 C215,498 218,492 222,488 Z" fill="#a8dcd4" opacity="0.5"/>
<path d="M218,490 L214,505 L222,504 L224,490 Z" fill="#f0b0b8" opacity="0.45"/>
<circle cx="116.3" cy="478.5" r="4.6" fill="url(#pk)"/>
<circle cx="128.3" cy="486.4" r="4.6" fill="url(#pk)"/>
<circle cx="116.3" cy="494.4" r="4.6" fill="url(#pk)"/>
<circle cx="120.8" cy="485.6" r="4.4" fill="url(#og)"/>
<circle cx="132.6" cy="422.6" r="3.1" fill="url(#tq)"/>
<circle cx="135.4" cy="436.7" r="3.4" fill="url(#tq)"/>
<circle cx="122.4" cy="433.1" r="3.4" fill="url(#tq)"/>
<circle cx="129.7" cy="429.6" r="4.8" fill="url(#og)"/>
<circle cx="218.8" cy="436" r="4.6" fill="url(#pk)"/>
<circle cx="211.5" cy="442.6" r="4.6" fill="url(#pk)"/>
<circle cx="213.2" cy="483.3" r="3.1" fill="url(#tq)"/>
<circle cx="224.5" cy="481.6" r="3.1" fill="url(#tq)"/>
<circle cx="219.6" cy="486.5" r="4.5" fill="url(#pk)"/>
<text x="138.9" y="432.6" font-size="9.3" fill="#111" stroke="#111" stroke-width="0.1">NH<tspan font-size="6.4" dy="2.2">3</tspan></text>
<text x="138.9" y="493.5" font-size="9.3" fill="#111" stroke="#111" stroke-width="0.1">NO<tspan font-size="6.4" dy="2.2">3</tspan><tspan font-size="6.4" dy="-6">−</tspan></text>
<text x="201" y="433.6" font-size="9.3" fill="#111" stroke="#111" stroke-width="0.1">O<tspan font-size="6.4" dy="2.2">2</tspan></text>
<text x="190.6" y="493.5" font-size="9.3" fill="#111" stroke="#111" stroke-width="0.1">H<tspan font-size="6.4" dy="2.2">2</tspan><tspan dy="-2.2">O</tspan></text>
<circle cx="122" cy="444.4" r="3.2" fill="none" stroke="#1a1a1a" stroke-width="0.7"/><text x="122" y="446.7" font-size="6" fill="#1a1a1a" text-anchor="middle" stroke="#1a1a1a" stroke-width="0.1">2</text>
<circle cx="125.3" cy="505.5" r="3.2" fill="none" stroke="#1a1a1a" stroke-width="0.7"/><text x="125.3" y="507.8" font-size="6" fill="#1a1a1a" text-anchor="middle" stroke="#1a1a1a" stroke-width="0.1">1</text>
<text transform="translate(28.0,474.2) rotate(-90)" font-size="9.9" text-anchor="middle" fill="#fa1e14" stroke="#fa1e14" stroke-width="0.1">Fast electrolyte flow</text>
<text x="31.8" y="564.2" font-size="9.75" fill="#111" stroke="#111" stroke-width="0.1">① Sufficient NO<tspan font-size="6.4" dy="2.2">3</tspan><tspan font-size="6.4" dy="-6">−</tspan><tspan dy="3.8"> supply</tspan></text>
<text x="151.5" y="564.2" font-size="9.75" fill="#111" stroke="#111" stroke-width="0.1">② Fast electrode-surface refresh</text>
</svg></body></html>
